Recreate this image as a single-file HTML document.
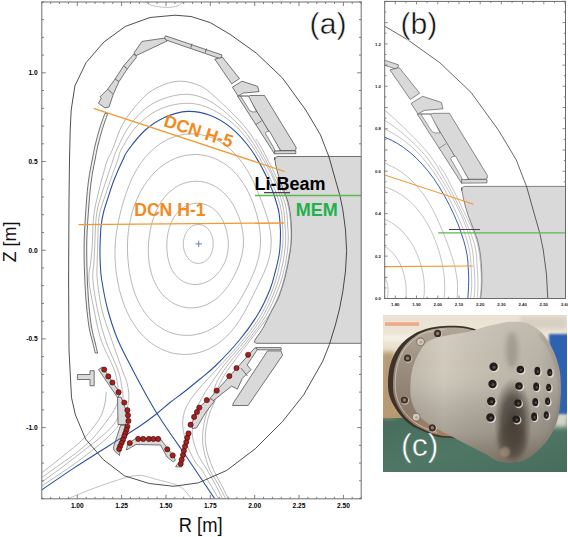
<!DOCTYPE html>
<html><head><meta charset="utf-8"><style>
html,body{margin:0;padding:0;background:#fff;width:568px;height:537px;overflow:hidden}
svg{display:block}
text{font-family:'Liberation Sans',sans-serif}
</style></head><body>
<svg width="568" height="537" viewBox="0 0 568 537">
<defs>
<clipPath id="ca"><rect x="41.8" y="2" width="319.4" height="496.8"/></clipPath>
<clipPath id="cb"><rect x="384.7" y="1.4" width="180.8" height="297.1"/></clipPath>
</defs>
<rect width="568" height="537" fill="#fff"/>
<g clip-path="url(#ca)">
<path d="M361.5,156.5 L278,156.5 Q274.5,156.5 274.5,160 L274.5,157.5C274.8,159.2 275.5,164.2 276.4,168C277.3,171.8 278.5,176.2 279.8,180C281.1,183.8 282.6,187.3 284,191C285.4,194.7 286.9,198.2 288,202C289.1,205.8 289.7,209.7 290.3,214C290.9,218.3 291.2,223.3 291.4,228C291.6,232.7 291.6,237.5 291.3,242C291,246.5 290.2,251 289.6,255C289,259 288.3,262.2 287.5,266C286.7,269.8 286.1,273.5 285,277.5C283.9,281.5 282.5,286.2 281.2,290C279.9,293.8 279.3,296 277.4,300C275.5,304 272.3,309.5 270,314C267.7,318.5 266,322.8 263.6,327C261.2,331.2 256.9,337 255.5,339 Q253,343.3 257,343.3 L361.5,343.3 Z" fill="#d9d9d9" stroke="#505050" stroke-width="0.8"/>
<path d="M213.1,245C213.1,245.4 213.1,245.7 213.1,246.1C213,246.5 213,246.9 213,247.2C212.9,247.6 212.9,248 212.8,248.3C212.7,248.7 212.7,249.1 212.6,249.4C212.5,249.8 212.4,250.2 212.3,250.5C212.2,250.9 212.1,251.3 212,251.6C211.9,252 211.8,252.4 211.6,252.7C211.5,253.1 211.4,253.4 211.2,253.8C211.1,254.1 210.9,254.5 210.7,254.8C210.5,255.2 210.3,255.5 210.1,255.9C210,256.2 209.7,256.5 209.5,256.9C209.3,257.2 209.1,257.5 208.8,257.8C208.6,258.1 208.3,258.4 208,258.7C207.8,259 207.5,259.3 207.2,259.6C206.9,259.9 206.6,260.1 206.3,260.4C206,260.7 205.6,260.9 205.3,261.1C205,261.4 204.6,261.6 204.3,261.8C203.9,262 203.5,262.1 203.2,262.3C202.8,262.5 202.4,262.6 202,262.8C201.6,262.9 201.2,263 200.8,263.1C200.4,263.2 200,263.2 199.6,263.3C199.2,263.3 198.8,263.4 198.4,263.4C198,263.4 197.6,263.4 197.2,263.3C196.8,263.3 196.4,263.2 196,263.2C195.6,263.1 195.2,263 194.8,262.9C194.4,262.8 194.1,262.7 193.7,262.5C193.3,262.4 193,262.2 192.6,262C192.3,261.8 191.9,261.7 191.6,261.4C191.3,261.2 190.9,261 190.6,260.8C190.3,260.6 190,260.3 189.8,260.1C189.5,259.8 189.2,259.6 189,259.3C188.7,259 188.5,258.7 188.2,258.5C188,258.2 187.8,257.9 187.6,257.6C187.4,257.3 187.2,257.1 187,256.8C186.8,256.5 186.6,256.2 186.4,255.9C186.3,255.6 186.1,255.3 186,255C185.8,254.7 185.7,254.5 185.5,254.2C185.4,253.9 185.3,253.6 185.2,253.3C185,253 184.9,252.7 184.8,252.5C184.7,252.2 184.6,251.9 184.5,251.6C184.4,251.3 184.3,251.1 184.3,250.8C184.2,250.5 184.1,250.2 184,250C184,249.7 183.9,249.4 183.8,249.1C183.8,248.9 183.7,248.6 183.7,248.3C183.6,248 183.6,247.8 183.5,247.5C183.5,247.2 183.4,246.9 183.4,246.7C183.4,246.4 183.3,246.1 183.3,245.8C183.3,245.6 183.3,245.3 183.3,245C183.3,244.7 183.3,244.4 183.3,244.2C183.3,243.9 183.3,243.6 183.3,243.3C183.3,243 183.3,242.8 183.3,242.5C183.4,242.2 183.4,241.9 183.4,241.6C183.4,241.3 183.5,241.1 183.5,240.8C183.6,240.5 183.6,240.2 183.7,239.9C183.7,239.6 183.8,239.3 183.9,239C183.9,238.7 184,238.4 184.1,238.1C184.1,237.8 184.2,237.5 184.3,237.2C184.4,236.9 184.5,236.6 184.6,236.3C184.7,235.9 184.8,235.6 184.9,235.3C185.1,235 185.2,234.7 185.3,234.3C185.5,234 185.6,233.7 185.8,233.4C185.9,233 186.1,232.7 186.3,232.4C186.5,232 186.7,231.7 186.9,231.4C187.1,231.1 187.3,230.7 187.6,230.4C187.8,230.1 188.1,229.8 188.3,229.5C188.6,229.1 188.9,228.8 189.2,228.5C189.5,228.3 189.8,228 190.1,227.7C190.5,227.4 190.8,227.2 191.2,226.9C191.5,226.7 191.9,226.4 192.3,226.2C192.6,226 193,225.8 193.5,225.6C193.9,225.5 194.3,225.3 194.7,225.2C195.1,225 195.6,224.9 196,224.8C196.4,224.7 196.9,224.7 197.3,224.6C197.8,224.6 198.2,224.6 198.7,224.6C199.1,224.6 199.6,224.6 200,224.7C200.5,224.8 200.9,224.8 201.4,224.9C201.8,225.1 202.2,225.2 202.7,225.3C203.1,225.5 203.5,225.7 203.9,225.9C204.3,226.1 204.7,226.3 205.1,226.5C205.5,226.8 205.9,227 206.2,227.3C206.6,227.6 206.9,227.9 207.2,228.2C207.6,228.5 207.9,228.8 208.2,229.1C208.5,229.4 208.8,229.8 209,230.1C209.3,230.5 209.5,230.8 209.8,231.2C210,231.6 210.2,232 210.5,232.3C210.7,232.7 210.9,233.1 211,233.5C211.2,233.9 211.4,234.2 211.5,234.6C211.7,235 211.8,235.4 211.9,235.8C212.1,236.2 212.2,236.6 212.3,237C212.4,237.4 212.5,237.7 212.6,238.1C212.7,238.5 212.7,238.9 212.8,239.3C212.9,239.7 212.9,240.1 213,240.5C213,240.8 213.1,241.2 213.1,241.6C213.1,242 213.1,242.4 213.1,242.7C213.2,243.1 213.2,243.5 213.2,243.9C213.2,244.3 213.2,244.6 213.1,245Z" fill="none" stroke="#a0a0a0" stroke-width="0.75"/>
<path d="M228.3,245C228.3,245.7 228.3,246.4 228.3,247.1C228.2,247.8 228.2,248.5 228.1,249.2C228,249.9 228,250.6 227.9,251.3C227.8,252 227.6,252.7 227.5,253.4C227.4,254.1 227.2,254.8 227,255.5C226.9,256.2 226.7,256.9 226.5,257.6C226.2,258.3 226,259 225.8,259.7C225.5,260.4 225.3,261 225,261.7C224.7,262.4 224.4,263.1 224.1,263.8C223.7,264.4 223.4,265.1 223,265.8C222.7,266.4 222.3,267.1 221.9,267.7C221.5,268.4 221.1,269 220.7,269.7C220.2,270.3 219.8,270.9 219.3,271.5C218.8,272.2 218.3,272.8 217.8,273.4C217.2,274 216.7,274.6 216.1,275.1C215.6,275.7 215,276.3 214.4,276.8C213.7,277.3 213.1,277.9 212.5,278.4C211.8,278.9 211.1,279.4 210.4,279.8C209.7,280.3 209,280.7 208.3,281.1C207.5,281.5 206.8,281.9 206,282.2C205.2,282.6 204.4,282.9 203.6,283.1C202.8,283.4 201.9,283.6 201.1,283.8C200.3,284 199.4,284.2 198.6,284.3C197.7,284.4 196.9,284.5 196,284.5C195.1,284.5 194.3,284.5 193.4,284.5C192.6,284.4 191.7,284.3 190.8,284.1C190,284 189.2,283.8 188.3,283.6C187.5,283.3 186.7,283 185.9,282.7C185.1,282.4 184.3,282 183.6,281.6C182.8,281.2 182.1,280.8 181.4,280.3C180.7,279.8 180,279.3 179.3,278.8C178.7,278.3 178,277.7 177.5,277.1C176.9,276.5 176.3,275.9 175.8,275.3C175.2,274.7 174.7,274 174.2,273.4C173.8,272.7 173.3,272 172.9,271.4C172.5,270.7 172.1,270 171.7,269.3C171.4,268.6 171,267.9 170.7,267.2C170.4,266.5 170.1,265.8 169.9,265C169.6,264.3 169.4,263.6 169.2,262.9C168.9,262.2 168.8,261.5 168.6,260.8C168.4,260.1 168.2,259.4 168.1,258.8C168,258.1 167.8,257.4 167.7,256.7C167.6,256 167.5,255.4 167.4,254.7C167.3,254 167.2,253.4 167.2,252.7C167.1,252.1 167.1,251.4 167,250.8C167,250.1 166.9,249.5 166.9,248.8C166.9,248.2 166.9,247.5 166.8,246.9C166.8,246.3 166.8,245.6 166.8,245C166.8,244.4 166.9,243.7 166.9,243.1C166.9,242.5 166.9,241.8 167,241.2C167,240.5 167.1,239.9 167.1,239.3C167.2,238.6 167.3,238 167.3,237.3C167.4,236.7 167.5,236 167.6,235.4C167.7,234.7 167.8,234 167.9,233.4C168.1,232.7 168.2,232 168.4,231.4C168.5,230.7 168.7,230 168.9,229.3C169,228.6 169.2,228 169.5,227.3C169.7,226.6 169.9,225.9 170.2,225.2C170.4,224.5 170.7,223.8 171,223.1C171.3,222.4 171.6,221.7 172,221C172.3,220.3 172.7,219.6 173.1,218.9C173.5,218.2 173.9,217.5 174.3,216.8C174.8,216.1 175.3,215.4 175.8,214.7C176.3,214.1 176.8,213.4 177.4,212.8C178,212.1 178.6,211.5 179.2,210.9C179.8,210.3 180.5,209.7 181.2,209.2C181.9,208.6 182.6,208.1 183.3,207.6C184.1,207.1 184.8,206.7 185.6,206.2C186.4,205.8 187.2,205.4 188.1,205.1C188.9,204.8 189.8,204.5 190.6,204.2C191.5,203.9 192.4,203.7 193.3,203.6C194.2,203.4 195.1,203.3 196,203.3C196.9,203.2 197.8,203.2 198.7,203.2C199.6,203.3 200.6,203.4 201.5,203.5C202.4,203.7 203.3,203.8 204.1,204.1C205,204.3 205.9,204.6 206.7,205C207.6,205.3 208.4,205.7 209.2,206.1C210,206.5 210.8,207 211.6,207.5C212.3,207.9 213,208.5 213.7,209C214.4,209.6 215.1,210.2 215.7,210.8C216.4,211.4 217,212.1 217.6,212.7C218.1,213.4 218.7,214.1 219.2,214.7C219.7,215.4 220.2,216.1 220.7,216.9C221.1,217.6 221.6,218.3 222,219C222.4,219.7 222.8,220.5 223.1,221.2C223.5,222 223.8,222.7 224.1,223.4C224.4,224.2 224.7,224.9 225,225.6C225.2,226.4 225.5,227.1 225.7,227.9C225.9,228.6 226.1,229.3 226.3,230C226.5,230.8 226.7,231.5 226.9,232.2C227,232.9 227.2,233.6 227.3,234.4C227.5,235.1 227.6,235.8 227.7,236.5C227.8,237.2 227.9,237.9 228,238.6C228.1,239.3 228.1,240.1 228.2,240.8C228.2,241.5 228.3,242.2 228.3,242.9C228.3,243.6 228.3,244.3 228.3,245Z" fill="none" stroke="#a0a0a0" stroke-width="0.75"/>
<path d="M243.4,245C243.3,246 243.2,247.1 243.1,248.1C243,249.1 242.9,250.1 242.7,251.1C242.5,252.2 242.3,253.2 242.1,254.2C241.9,255.2 241.7,256.2 241.4,257.2C241.2,258.2 240.9,259.2 240.6,260.1C240.3,261.1 240,262.1 239.7,263.1C239.3,264.1 239,265 238.6,266C238.2,267 237.8,267.9 237.4,268.9C237,269.9 236.6,270.8 236.1,271.8C235.7,272.8 235.2,273.7 234.7,274.7C234.2,275.7 233.7,276.7 233.2,277.6C232.7,278.6 232.1,279.6 231.6,280.6C231,281.5 230.4,282.5 229.8,283.5C229.1,284.5 228.5,285.5 227.8,286.4C227.1,287.4 226.4,288.4 225.6,289.3C224.9,290.3 224.1,291.2 223.2,292.2C222.4,293.1 221.5,294 220.6,294.9C219.7,295.8 218.8,296.7 217.8,297.6C216.8,298.4 215.7,299.2 214.7,300C213.6,300.8 212.5,301.5 211.3,302.2C210.2,302.9 209,303.5 207.8,304.1C206.5,304.7 205.3,305.2 204,305.7C202.7,306.1 201.4,306.5 200.1,306.9C198.7,307.2 197.4,307.4 196,307.6C194.6,307.8 193.3,307.9 191.9,307.9C190.5,307.9 189.1,307.9 187.7,307.8C186.4,307.6 185,307.4 183.6,307.1C182.3,306.8 181,306.5 179.6,306C178.3,305.6 177.1,305.1 175.8,304.5C174.6,303.9 173.3,303.3 172.2,302.5C171,301.8 169.9,301.1 168.8,300.2C167.7,299.4 166.6,298.5 165.6,297.6C164.6,296.7 163.7,295.7 162.8,294.7C161.9,293.7 161,292.7 160.2,291.6C159.4,290.6 158.7,289.5 158,288.4C157.3,287.3 156.6,286.1 156,285C155.4,283.9 154.8,282.7 154.3,281.5C153.8,280.4 153.3,279.2 152.9,278.1C152.5,276.9 152.1,275.7 151.7,274.6C151.4,273.4 151,272.3 150.8,271.1C150.5,270 150.2,268.8 150,267.7C149.7,266.6 149.5,265.4 149.4,264.3C149.2,263.2 149,262.1 148.9,261C148.8,259.9 148.7,258.8 148.6,257.7C148.5,256.6 148.4,255.5 148.4,254.5C148.4,253.4 148.3,252.3 148.3,251.3C148.3,250.2 148.3,249.2 148.3,248.1C148.4,247.1 148.4,246 148.5,245C148.5,244 148.6,242.9 148.7,241.9C148.8,240.9 148.9,239.8 149,238.8C149.1,237.8 149.2,236.8 149.4,235.7C149.5,234.7 149.7,233.7 149.8,232.6C150,231.6 150.2,230.6 150.4,229.5C150.6,228.5 150.9,227.5 151.1,226.4C151.4,225.4 151.6,224.3 151.9,223.3C152.2,222.2 152.5,221.1 152.8,220.1C153.1,219 153.5,217.9 153.9,216.9C154.3,215.8 154.7,214.7 155.1,213.6C155.5,212.5 156,211.4 156.5,210.3C157,209.3 157.5,208.2 158.1,207.1C158.6,206 159.2,204.9 159.9,203.8C160.5,202.8 161.2,201.7 162,200.6C162.7,199.6 163.5,198.5 164.3,197.5C165.1,196.5 166,195.5 166.9,194.5C167.8,193.6 168.7,192.6 169.7,191.7C170.7,190.8 171.8,190 172.9,189.2C174,188.3 175.1,187.6 176.3,186.9C177.4,186.2 178.7,185.5 179.9,184.9C181.1,184.3 182.4,183.8 183.7,183.3C185,182.9 186.4,182.5 187.7,182.2C189.1,181.9 190.5,181.6 191.8,181.5C193.2,181.3 194.6,181.2 196,181.2C197.4,181.2 198.8,181.3 200.2,181.4C201.5,181.6 202.9,181.8 204.3,182.1C205.6,182.4 207,182.8 208.3,183.3C209.6,183.7 210.9,184.2 212.1,184.8C213.4,185.4 214.6,186.1 215.8,186.7C217,187.4 218.1,188.2 219.2,189C220.3,189.8 221.3,190.7 222.4,191.6C223.4,192.4 224.3,193.4 225.3,194.3C226.2,195.3 227.1,196.3 227.9,197.3C228.7,198.3 229.5,199.3 230.3,200.4C231,201.4 231.7,202.5 232.4,203.5C233,204.6 233.7,205.7 234.3,206.7C234.8,207.8 235.4,208.9 235.9,210C236.4,211.1 236.9,212.2 237.4,213.2C237.9,214.3 238.3,215.4 238.7,216.5C239.1,217.6 239.5,218.6 239.8,219.7C240.1,220.8 240.5,221.9 240.8,222.9C241.1,224 241.3,225.1 241.6,226.1C241.8,227.2 242.1,228.2 242.3,229.3C242.5,230.4 242.6,231.4 242.8,232.5C242.9,233.5 243.1,234.6 243.2,235.6C243.3,236.7 243.3,237.7 243.4,238.8C243.4,239.8 243.4,240.9 243.4,241.9C243.4,242.9 243.4,244 243.4,245Z" fill="none" stroke="#a0a0a0" stroke-width="0.75"/>
<path d="M260.4,245C260.3,246.4 260.2,247.8 260,249.2C259.8,250.6 259.6,252 259.4,253.3C259.2,254.7 258.9,256.1 258.6,257.5C258.3,258.8 257.9,260.2 257.6,261.5C257.2,262.8 256.8,264.2 256.4,265.5C255.9,266.8 255.5,268.1 255,269.4C254.5,270.7 254,272 253.5,273.3C252.9,274.6 252.4,275.9 251.8,277.2C251.2,278.5 250.7,279.8 250,281.1C249.4,282.4 248.8,283.7 248.2,285C247.5,286.3 246.9,287.7 246.2,289C245.5,290.3 244.8,291.7 244,293C243.3,294.4 242.5,295.7 241.7,297.1C240.9,298.5 240.1,299.9 239.2,301.3C238.3,302.7 237.4,304.1 236.4,305.5C235.4,306.9 234.4,308.3 233.3,309.6C232.2,311 231.1,312.4 229.9,313.8C228.7,315.2 227.5,316.5 226.2,317.8C224.8,319.1 223.5,320.4 222,321.6C220.6,322.9 219.1,324 217.5,325.2C215.9,326.3 214.3,327.3 212.6,328.3C210.9,329.3 209.1,330.2 207.3,331C205.5,331.8 203.7,332.5 201.8,333.1C199.9,333.6 197.9,334.1 196,334.5C194.1,334.9 192.1,335.1 190.1,335.3C188.1,335.4 186.1,335.4 184.1,335.3C182.1,335.2 180.1,335 178.2,334.6C176.2,334.2 174.3,333.8 172.4,333.2C170.5,332.6 168.6,331.8 166.8,331C165,330.2 163.2,329.3 161.5,328.2C159.8,327.2 158.2,326.1 156.6,324.9C155.1,323.7 153.5,322.3 152.1,321C150.7,319.6 149.4,318.2 148.1,316.7C146.8,315.2 145.6,313.7 144.5,312.1C143.4,310.6 142.3,308.9 141.4,307.3C140.4,305.7 139.5,304 138.7,302.3C137.8,300.7 137.1,299 136.4,297.3C135.7,295.6 135,293.9 134.4,292.2C133.8,290.6 133.3,288.9 132.8,287.2C132.3,285.5 131.9,283.9 131.5,282.2C131.1,280.6 130.7,279 130.4,277.3C130.1,275.7 129.8,274.1 129.5,272.5C129.3,270.9 129,269.4 128.8,267.8C128.6,266.2 128.4,264.7 128.3,263.1C128.1,261.6 128,260.1 127.9,258.6C127.8,257 127.7,255.5 127.6,254C127.5,252.5 127.5,251 127.5,249.5C127.4,248 127.4,246.5 127.5,245C127.5,243.5 127.5,242 127.6,240.5C127.7,239 127.8,237.5 127.9,236C128,234.5 128.2,233 128.4,231.5C128.5,230 128.7,228.5 129,227C129.2,225.5 129.5,224 129.8,222.5C130.1,221 130.4,219.5 130.8,218C131.1,216.5 131.5,214.9 131.9,213.4C132.4,211.9 132.8,210.4 133.3,208.8C133.8,207.3 134.4,205.7 134.9,204.2C135.5,202.7 136.1,201.1 136.8,199.6C137.5,198 138.2,196.5 138.9,194.9C139.7,193.4 140.5,191.8 141.3,190.3C142.2,188.8 143.1,187.3 144,185.7C145,184.2 146,182.7 147.1,181.3C148.2,179.8 149.3,178.3 150.5,176.9C151.7,175.5 153,174.1 154.3,172.7C155.6,171.4 157,170.1 158.4,168.8C159.9,167.6 161.4,166.4 163,165.3C164.5,164.1 166.2,163.1 167.9,162.1C169.5,161.1 171.3,160.2 173.1,159.4C174.8,158.6 176.7,157.8 178.5,157.2C180.4,156.6 182.3,156.1 184.2,155.7C186.2,155.3 188.1,155 190.1,154.8C192,154.6 194,154.5 196,154.5C198,154.6 199.9,154.7 201.9,155C203.8,155.3 205.8,155.7 207.7,156.1C209.6,156.6 211.5,157.2 213.3,157.9C215.2,158.6 217,159.4 218.7,160.3C220.4,161.2 222.1,162.2 223.7,163.3C225.4,164.3 226.9,165.5 228.5,166.7C230,167.9 231.4,169.1 232.8,170.5C234.1,171.8 235.4,173.1 236.7,174.5C237.9,176 239.1,177.4 240.2,178.9C241.3,180.3 242.3,181.8 243.3,183.3C244.3,184.9 245.2,186.4 246.1,187.9C246.9,189.4 247.7,191 248.5,192.5C249.3,194 250,195.6 250.6,197.1C251.3,198.6 251.9,200.1 252.5,201.6C253.1,203.2 253.6,204.7 254.2,206.1C254.7,207.6 255.1,209.1 255.6,210.6C256,212.1 256.5,213.5 256.9,215C257.2,216.4 257.6,217.9 257.9,219.3C258.3,220.8 258.6,222.2 258.8,223.7C259.1,225.1 259.3,226.5 259.6,228C259.8,229.4 259.9,230.8 260.1,232.3C260.2,233.7 260.3,235.1 260.4,236.5C260.5,237.9 260.5,239.4 260.5,240.8C260.5,242.2 260.4,243.6 260.4,245Z" fill="none" stroke="#a0a0a0" stroke-width="0.75"/>
<path d="M271.1,245C271,246.6 270.9,248.3 270.7,249.9C270.5,251.5 270.2,253.1 269.9,254.7C269.6,256.3 269.2,257.9 268.7,259.5C268.3,261 267.8,262.6 267.3,264.1C266.8,265.6 266.2,267.1 265.7,268.6C265.1,270.1 264.4,271.6 263.8,273.1C263.2,274.6 262.5,276 261.8,277.5C261.1,278.9 260.4,280.3 259.7,281.8C259,283.2 258.3,284.7 257.6,286.2C256.9,287.6 256.1,289.1 255.4,290.6C254.7,292.1 253.9,293.6 253.2,295.1C252.4,296.7 251.6,298.2 250.8,299.8C250,301.4 249.2,303.1 248.4,304.7C247.5,306.4 246.6,308.1 245.7,309.8C244.8,311.5 243.8,313.2 242.8,315C241.7,316.8 240.7,318.5 239.5,320.3C238.3,322.1 237.1,323.9 235.8,325.7C234.5,327.4 233.1,329.2 231.6,330.9C230.1,332.6 228.5,334.4 226.9,336C225.2,337.6 223.5,339.2 221.6,340.7C219.8,342.2 217.9,343.6 215.9,344.9C213.9,346.2 211.8,347.4 209.6,348.5C207.5,349.5 205.2,350.5 203,351.3C200.7,352.1 198.4,352.8 196,353.3C193.6,353.8 191.2,354.1 188.8,354.3C186.4,354.5 184,354.5 181.6,354.4C179.2,354.2 176.8,353.9 174.4,353.5C172.1,353 169.7,352.4 167.4,351.6C165.2,350.8 162.9,349.9 160.8,348.8C158.6,347.8 156.5,346.6 154.5,345.3C152.4,344 150.5,342.5 148.7,341C146.8,339.5 145,337.8 143.4,336.2C141.7,334.5 140.1,332.7 138.6,330.8C137.2,329 135.8,327.1 134.5,325.2C133.2,323.3 132,321.3 130.8,319.3C129.7,317.3 128.7,315.3 127.7,313.3C126.7,311.3 125.9,309.2 125,307.2C124.2,305.2 123.5,303.2 122.8,301.2C122.1,299.2 121.5,297.2 120.9,295.2C120.3,293.2 119.8,291.2 119.3,289.3C118.9,287.3 118.4,285.4 118,283.4C117.7,281.5 117.3,279.6 117,277.7C116.7,275.8 116.4,274 116.2,272.1C116,270.2 115.8,268.4 115.6,266.5C115.4,264.7 115.3,262.9 115.2,261.1C115.1,259.3 115,257.5 115,255.7C115,253.9 115,252.1 115,250.3C115.1,248.5 115.1,246.8 115.2,245C115.3,243.2 115.5,241.5 115.6,239.7C115.8,238 116,236.2 116.2,234.5C116.4,232.8 116.7,231 117,229.3C117.3,227.5 117.6,225.8 117.9,224.1C118.2,222.3 118.6,220.6 119,218.8C119.3,217.1 119.7,215.4 120.2,213.6C120.6,211.8 121,210.1 121.5,208.3C122,206.5 122.5,204.7 123,202.9C123.6,201.1 124.1,199.2 124.7,197.4C125.3,195.5 125.9,193.6 126.6,191.8C127.3,189.9 128,188 128.8,186C129.5,184.1 130.3,182.2 131.2,180.2C132.1,178.3 133,176.3 134.1,174.4C135.1,172.4 136.2,170.5 137.3,168.5C138.5,166.6 139.7,164.7 141.1,162.8C142.4,160.9 143.8,159 145.3,157.2C146.8,155.4 148.4,153.7 150.1,152C151.8,150.3 153.6,148.7 155.5,147.2C157.4,145.7 159.3,144.2 161.4,142.9C163.4,141.7 165.5,140.5 167.7,139.4C169.9,138.4 172.2,137.4 174.5,136.7C176.8,135.9 179.1,135.3 181.5,134.8C183.9,134.4 186.3,134.1 188.7,134C191.1,133.8 193.6,133.9 196,134.1C198.4,134.3 200.8,134.6 203.2,135.2C205.6,135.7 207.9,136.4 210.2,137.2C212.5,138 214.7,139 216.9,140.1C219,141.2 221.1,142.4 223.1,143.8C225.1,145.1 227.1,146.6 228.9,148.1C230.7,149.6 232.5,151.3 234.1,153C235.8,154.6 237.3,156.4 238.8,158.2C240.3,160 241.7,161.8 243,163.6C244.3,165.5 245.5,167.4 246.6,169.2C247.8,171.1 248.8,173 249.9,174.8C250.9,176.7 251.8,178.5 252.7,180.4C253.6,182.2 254.4,184 255.2,185.8C256,187.6 256.8,189.3 257.5,191.1C258.2,192.8 258.9,194.5 259.6,196.2C260.3,197.9 260.9,199.5 261.6,201.2C262.2,202.8 262.8,204.5 263.4,206.1C264,207.7 264.6,209.3 265.1,210.9C265.7,212.5 266.2,214.1 266.7,215.7C267.2,217.3 267.7,218.9 268.1,220.5C268.5,222.1 268.9,223.7 269.3,225.4C269.6,227 270,228.6 270.2,230.2C270.5,231.9 270.7,233.5 270.9,235.1C271,236.8 271.1,238.4 271.2,240.1C271.2,241.7 271.2,243.4 271.1,245Z" fill="none" stroke="#a0a0a0" stroke-width="0.75"/>
<path d="M67.9,498.8C72.6,496.9 86.6,490.9 95.9,487.5C105.2,484.1 116.5,480.2 123.8,478.2C131.2,476.2 134.9,475.3 140,475.4C145.1,475.5 148,477.1 154.6,478.9C161.2,480.7 173.1,483 179.3,486.3C185.5,489.6 189.6,496.7 191.6,498.8" fill="none" stroke="#a8a8a8" stroke-width="0.7"/>
<path d="M145.5,2C146.6,2.6 148.5,4.6 152,5.5C155.5,6.4 162.4,7.3 166.6,7.4C170.8,7.5 174.2,6.9 177,6C179.8,5.1 182.4,2.7 183.5,2" fill="none" stroke="#a8a8a8" stroke-width="0.7"/>
<path d="M42,485.7C46.7,482.6 61,473.4 70,467C79,460.6 88.7,453.3 95.9,447.5C103.1,441.7 108.3,437.1 113,432C117.7,426.9 121.4,422.3 124,417C126.6,411.7 128.1,405.3 128.7,400C129.3,394.7 128.6,390 127.5,385C126.4,380 124.9,377.5 122.3,370C119.7,362.5 115.1,350 111.7,340C108.3,330 104.4,320 102,310C99.6,300 98.1,288 97.3,280C96.5,272 97.1,268 97.2,262C97.3,256 97.5,250.2 97.7,244C97.9,237.8 97.9,230.3 98.3,225C98.7,219.7 99,216.2 99.9,212C100.8,207.8 101.9,205.3 103.7,200C105.5,194.7 108.2,186.7 110.5,180C112.8,173.3 116,165 117.8,160C119.6,155 118.1,155.5 121.1,150C124.1,144.5 129.8,133.7 136,127C142.2,120.3 149.7,114 158,110C166.3,106 177.1,103.5 185.8,103.3C194.5,103 201.9,104.9 210,108.5C218.1,112.1 227.1,118.1 234.6,125C242.1,131.9 248.9,140.8 254.9,150C260.9,159.2 266.5,170.8 270.7,180C274.9,189.2 278.1,197.5 280.1,205C282.1,212.5 282.1,218.5 282.5,225C282.9,231.5 283.4,236.8 282.8,244C282.2,251.2 280.6,260.3 278.9,268C277.2,275.7 275.5,282.2 272.5,290C269.5,297.8 265.9,306.7 261,315C256.1,323.3 249.7,331.7 243,340C236.3,348.3 228.2,356.7 220.7,365C213.2,373.3 203.6,383.2 198,390C192.4,396.8 189.5,400.8 187,405.6C184.5,410.4 183.6,414.4 183,418.7C182.4,423 182.6,426.7 183.5,431.7C184.4,436.7 186.5,443.7 188.6,448.9C190.7,454.1 193.8,459.5 196,463C198.2,466.5 199.6,466.5 201.9,470C204.2,473.5 207.2,479.2 210,484C212.8,488.8 217.3,496.3 218.8,498.8" fill="none" stroke="#9a9a9a" stroke-width="0.7"/>
<path d="M42,481.9C45.8,479.1 57.6,470.6 65,465C72.4,459.4 80.4,453.2 86.6,448.4C92.8,443.6 98,439.4 102,436C106,432.6 108.4,430.5 110.8,427.9C113.2,425.3 114.7,423.5 116.4,420.5C118.1,417.5 119.9,413.8 121,410C122.1,406.2 122.9,402.2 123,398C123.1,393.8 122.3,389.7 121.5,385C120.7,380.3 120.6,377.5 117.9,370C115.2,362.5 108.9,350 105.5,340C102.1,330 99.7,320 97.6,310C95.5,300 93.5,288 92.9,280C92.3,272 93.7,268 94,262C94.3,256 94.5,250.2 94.8,244C95.1,237.8 95.2,230.3 95.6,225C95.9,219.7 96.2,216.2 96.9,212C97.6,207.8 98.2,205.3 99.8,200C101.4,194.7 104.1,186.7 106.3,180C108.5,173.3 111.3,165 113,160C114.7,155 113.9,155.8 116.7,150C119.5,144.2 124.1,132.7 130,125C135.9,117.3 143.2,109.1 152,104C160.8,98.9 173.3,94.9 183,94.4C192.7,93.9 200.7,96.1 210,101.2C219.3,106.3 231.1,116.9 239,125C246.9,133.1 251.7,140.8 257.5,150C263.3,159.2 269.8,170.8 274,180C278.2,189.2 280.9,197.5 282.7,205C284.5,212.5 284.5,218.5 285,225C285.5,231.5 286,236.8 285.5,244C285,251.2 283.5,260.3 281.8,268C280.1,275.7 278.1,282.2 275.1,290C272.1,297.8 268.5,306.7 263.6,315C258.7,323.3 252.2,331.7 245.7,340C239.1,348.3 230.6,357 224.3,365C218,373 211.8,382.4 208,388C204.2,393.6 203.6,394.9 201.6,398.6C199.6,402.3 197.4,406 196,410C194.6,414 193.9,418.5 193.3,422.8C192.7,427.1 191.6,430.6 192.4,435.9C193.2,441.2 195.4,448.8 197.9,454.5C200.4,460.2 204.3,465.1 207.2,470C210,474.9 212.4,479.2 215,484C217.6,488.8 221.2,496.3 222.5,498.8" fill="none" stroke="#9a9a9a" stroke-width="0.7"/>
<path d="M42,477.3C45,475.2 54.1,468.7 60,464.5C65.9,460.3 72,456.2 77.2,452.1C82.4,448 87,444 91,440C95,436 98.5,431.6 101.5,427.9C104.5,424.2 106.8,421.1 109,418C111.2,414.9 113,412.3 114.5,409.3C116,406.3 117.6,403.6 118.2,400C118.8,396.4 118.7,393 118,388C117.3,383 117.1,378 114.3,370C111.5,362 104.5,350 101.1,340C97.7,330 96.1,320 94.1,310C92.1,300 89.5,288 88.9,280C88.4,272 90.2,268 90.8,262C91.4,256 91.9,250.2 92.3,244C92.7,237.8 92.7,230.3 93,225C93.3,219.7 93.7,216.2 94.3,212C94.9,207.8 95.5,205.3 96.7,200C97.9,194.7 99.8,186.7 101.6,180C103.4,173.3 105.6,165 107.4,160C109.2,155 109.5,156.3 112.3,150C115.1,143.7 118.5,131 124,122C129.4,113 138.5,102.2 145,96C151.5,89.8 157.3,87.5 163,85C168.7,82.5 174,81.4 179.3,81.2C184.6,81 189.9,82.1 195,84C200.1,85.9 201.9,85.7 210,92.5C218.1,99.3 235.1,115.4 243.4,125C251.8,134.6 254.8,140.8 260.1,150C265.5,159.2 271.3,170.8 275.5,180C279.7,189.2 283.4,197.5 285.4,205C287.4,212.5 287.2,218.5 287.6,225C288.1,231.5 288.6,236.8 288.1,244C287.6,251.2 286.3,260.3 284.6,268C282.9,275.7 280.9,282.2 277.8,290C274.8,297.8 271.2,306.7 266.3,315C261.4,323.3 254.7,331.7 248.3,340C241.9,348.3 233.2,357.7 227.8,365C222.4,372.3 218.5,378.4 216,384C213.5,389.6 214.3,393.9 212.8,398.6C211.3,403.3 208.6,407.4 207,412C205.4,416.6 204.2,421.6 203.5,426.5C202.8,431.4 202.3,436.6 202.6,441.4C202.8,446.1 203.8,450.2 205,455C206.2,459.8 207.6,465.2 209.8,470C212,474.8 215.3,479.2 218,484C220.7,488.8 224.4,496.3 225.7,498.8" fill="none" stroke="#9a9a9a" stroke-width="0.7"/>
<path d="M42,472.6C44.2,470.9 50.7,465.9 55,462.5C59.3,459.1 63.9,455.4 67.9,452.1C71.9,448.9 75.6,446.1 79,443C82.4,439.9 85.7,436.6 88.4,433.5C91.2,430.4 93.3,427.6 95.5,424.5C97.7,421.4 99.9,418.5 101.5,414.9C103.1,411.3 104.2,406.8 105,403C105.8,399.2 106.1,393.8 106.3,392" fill="none" stroke="#9a9a9a" stroke-width="0.7"/>
<path d="M256,139C257.1,140.8 259.2,143.2 262.8,150C266.4,156.8 273.6,171.2 277.7,180C281.8,188.8 285.4,195.5 287.5,203C289.6,210.5 290.1,218.5 290.6,225C291.2,231.5 291.1,237 290.8,242C290.5,247 289.7,250.7 289,255C288.3,259.3 288,262.2 286.6,268C285.2,273.8 283.5,282.3 280.7,290C277.9,297.7 274.4,306 269.6,314C264.8,322 258.4,329.5 252,338C245.6,346.5 236.7,357.3 231.3,365C225.9,372.7 222.1,378.4 219.5,384C216.9,389.6 217.4,393.9 215.8,398.6C214.2,403.3 211.6,407.4 210,412C208.4,416.6 207.1,421.6 206.3,426.5C205.5,431.4 205,436.6 205.3,441.4C205.6,446.1 206.6,450.2 208,455C209.4,459.8 211.3,465.2 213.5,470C215.7,474.8 218.5,479.2 221,484C223.5,488.8 227.1,496.3 228.3,498.8" fill="none" stroke="#9a9a9a" stroke-width="0.7"/>
<path d="M69,200 L69.5,160 L70.2,130 L71.2,110 L74.9,85.9 L86.1,62.6 L103.8,42.1 L125.4,26.4 L150,17.5 L175,15.2 L191,16.5 L210.2,22.6 L230,34.3 L256.3,53.1 L282.4,77.9 L305.7,110 L320.3,134.5 L329,157 L335.4,179.8 L340,196 L342.8,209.6 L345.5,230 L346.6,250.6 L345.5,271 L342.8,291.5 L339.5,309 L335.4,325 L329.4,344.5 L322.7,361.3 L303.7,394.8 L282.4,421.7 L255.3,448.7 L226.6,470.5 L198.5,482.8 L173.8,486.3 L149.2,483.5 L124.5,475.8 L103.3,459.6 L85.6,439.1 L75.4,414.9 L71.5,397.6 L69,350 L68.6,280 L69,200" fill="none" stroke="#222" stroke-width="0.8"/>
<path d="M142,41.4 L165.4,38 L167,41 L136,55.7 L134,53Z" fill="#d9d9d9" stroke="#404040" stroke-width="0.7" stroke-linejoin="round"/>
<path d="M134.1,53.9 L123.5,66 L115.1,79 L107.7,89.2 L100.2,96.7 L101.2,98.6 L98.4,103.2 L104.9,107.9 L109,107 L113.3,94.3 L119,81.6 L127.4,68.8 L136.6,57Z" fill="#d9d9d9" stroke="#404040" stroke-width="0.7" stroke-linejoin="round"/>
<path d="M165.5,35.8 Q163.5,37.5 166,40 L220.5,58.8 L222,55 Z" fill="#d9d9d9" stroke="#404040" stroke-width="0.7" stroke-linejoin="round"/>
<path d="M214.7,59.1 L222.5,57.3 L239.5,78.6 L231.7,83.8Z" fill="#d9d9d9" stroke="#404040" stroke-width="0.7" stroke-linejoin="round"/>
<path d="M232.4,87.2 L242,81.2 L257.7,86.4 L259,91.7 L243.4,93 L238.2,96.1Z" fill="#d9d9d9" stroke="#404040" stroke-width="0.7" stroke-linejoin="round"/>
<path d="M237.5,96 L248.6,96 L280.5,150.8 L274.5,153.8Z" fill="#d9d9d9" stroke="#404040" stroke-width="0.7" stroke-linejoin="round"/>
<path d="M250.3,95.5 L264.4,95.4 L296.1,147.3 Q296.6,150.4 294.5,150.5 L280.5,150.5 L248.4,97.4 Q248.4,95.5 250.3,95.5Z" fill="#d9d9d9" stroke="#404040" stroke-width="0.7" stroke-linejoin="round"/>
<path d="M274.5,150.8 L295.8,150.8 L295.8,153.6 L274.5,153.8Z" fill="#d9d9d9" stroke="#404040" stroke-width="0.7" stroke-linejoin="round"/>
<path d="M77.4,374.5 L90,374.5 L90,370.7 L94.2,370.7 L94.2,385.8 L90,385.8 L90,379.5 L77.4,379.5Z" fill="#d9d9d9" stroke="#404040" stroke-width="0.7" stroke-linejoin="round"/>
<path d="M98.5,369.5 L102.5,367 L120.5,394 L117.5,397.5Z" fill="#d9d9d9" stroke="#404040" stroke-width="0.7" stroke-linejoin="round"/>
<path d="M117.5,397.5 L121,397 L126,410 L127.5,420 L125.5,424.5 L118,424.5Z" fill="#d9d9d9" stroke="#404040" stroke-width="0.7" stroke-linejoin="round"/>
<path d="M120.5,425.5 L125.5,425 L124,433 L121,442 L119.5,455.5 L114,450.5 L113.5,447Z" fill="#d9d9d9" stroke="#404040" stroke-width="0.7" stroke-linejoin="round"/>
<path d="M126.5,450 L127.5,444 L135.5,438.5 L160.2,438.5 L163.5,443 L172,454 L175.5,460 L173.5,462 L167,457 L160.5,445 L136,444.5Z" fill="#d9d9d9" stroke="#404040" stroke-width="0.7" stroke-linejoin="round"/>
<path d="M191.5,424 L198.5,408 L205.5,401.5 L211,398.5 L214.5,401 L206,412 L196.5,428 L192.5,428.5Z" fill="#d9d9d9" stroke="#404040" stroke-width="0.7" stroke-linejoin="round"/>
<path d="M175.6,466.8 L177.8,463.6 L182.5,463.8 L181.5,467Z" fill="#d9d9d9" stroke="#404040" stroke-width="0.7" stroke-linejoin="round"/>
<path d="M210.3,397.8 L254.9,347.8 L257.5,349.4 L247.1,364.9 L251,369.7 L242.3,378.4 L237.4,389.1 L231.6,386.2 L213.2,400.7Z" fill="#d9d9d9" stroke="#404040" stroke-width="0.7" stroke-linejoin="round"/>
<path d="M255.8,347.6 L281,347.6 L281.4,349.8 L257.8,349.8Z" fill="#d9d9d9" stroke="#404040" stroke-width="0.7" stroke-linejoin="round"/>
<path d="M267.5,350.9 L281,350.9 L282.6,355.2 L248.1,405.5 L232.6,405.5 L233.6,402.6Z" fill="#d9d9d9" stroke="#404040" stroke-width="0.7" stroke-linejoin="round"/>
<path d="M104.8,113.6C104,116 101.4,122.8 99.8,128C98.2,133.2 96.5,139.7 95.2,145C93.9,150.3 93.3,154.2 92.2,160C91.1,165.8 89.6,172.5 88.6,180C87.6,187.5 86.9,195 86.2,205C85.5,215 84.5,228.3 84.2,240C83.9,251.7 84.2,264.2 84.6,275C85,285.8 85.6,296.2 86.4,305C87.2,313.8 88.2,321.8 89.2,328C90.2,334.2 91.6,337.8 92.6,342C93.6,346.2 94.8,351.2 95.2,353 L97.6,353 C97.2,351.2 96,346.2 95,342C94.1,337.8 92.7,334.2 91.7,328C90.6,321.8 89.7,313.8 88.9,305C88.2,296.2 87.5,285.8 87.2,275C86.8,264.2 86.6,251.7 86.8,240C87.1,228.3 88.2,215 88.9,205C89.7,195 90.4,187.5 91.4,180C92.4,172.5 93.9,165.8 95,160C96.1,154.2 96.8,150.3 98,145C99.3,139.7 101.1,133.2 102.7,128C104.3,122.8 106.9,116 107.7,113.6Z" fill="#f2f2f2" stroke="#333" stroke-width="0.7"/>
<path d="M240.6,96.2 L249.7,110.6 Q251.8,112.6 256.6,111.8 L248.6,96.2 Z M265.4,133.4 Q265.9,131.4 268.4,131.3 L269.6,131.3 L280,149.8 L279.6,150.6 L275.6,151 Z M255.5,124.8 L261.6,120.8" fill="#fff" stroke="#404040" stroke-width="0.6"/>
<path d="M123.5,66 L127.4,68.8 M115.1,79 L119,81.6 M107.7,89.2 L112.8,94" fill="none" stroke="#404040" stroke-width="0.7"/>
<path d="M192,43.6 L190.8,47.8 M206.5,48.5 L205.2,52.8" fill="none" stroke="#404040" stroke-width="0.7"/>
<path d="M241,368 L247.5,376" fill="none" stroke="#404040" stroke-width="0.7"/>
<path d="M42,489.7C47.2,486.2 61.7,476.1 73,468.6C84.3,461.2 98.8,452.1 110,445C121.2,437.9 132.2,431.2 140,426C147.8,420.8 152,417.4 157,413.5C162,409.6 165.5,406.1 170,402.5C174.5,398.9 179,395.9 184,392C189,388.1 194.6,383.5 200,379C205.4,374.5 209.7,371.5 216.3,365C222.9,358.5 232.6,348.3 239.5,340C246.4,331.7 252.4,323.3 257.5,315C262.6,306.7 266.9,297.2 269.8,290C272.8,282.8 273.7,277.7 275.2,272C276.7,266.3 278.1,260.7 278.9,256C279.7,251.3 280,248.7 280.2,244C280.4,239.3 280.7,234 280.3,228C279.9,222 280,216 278,208C276,200 272.6,189.7 268.1,180C263.7,170.3 257.4,158.6 251.3,150C245.2,141.4 238.4,134 231.5,128.2C224.6,122.4 217.3,118.1 210,115.3C202.7,112.5 195,111.1 187.5,111.4C180,111.7 172,114.1 165,117.2C158,120.3 151.4,124.5 145.3,130C139.2,135.5 131.9,145 128.2,150C124.4,155 125.2,155 122.8,160C120.4,165 116.6,173.3 114,180C111.4,186.7 109,194.7 107.3,200C105.6,205.3 104.6,207.8 103.6,212C102.6,216.2 101.8,219.7 101.2,225C100.6,230.3 100.3,237.8 100.1,244C99.9,250.2 99.9,256 100.2,262C100.5,268 100.4,272 101.7,280C103,288 105.1,300 107.8,310C110.5,320 113.7,330 117.9,340C122.1,350 128.5,361.7 132.8,370C137.1,378.3 140.9,385.2 143.5,390C146.1,394.8 146.2,395.1 148.5,399C150.8,402.9 153.4,407.8 157,413.5C160.6,419.2 165.2,425.9 170,433C174.8,440.1 180.7,448.2 186,456C191.3,463.8 197.3,472.9 202.1,480C206.9,487.1 212.7,495.7 214.8,498.8" fill="none" stroke="#2f4fa5" stroke-width="1.1"/>
<path d="M195.5,243.9 H202 M198.7,240.7 V247.1" stroke="#5060b0" stroke-width="0.8"/>
<path d="M93.7,108.4 L284.6,171.5" stroke="#f39a2e" stroke-width="1.3"/>
<path d="M78.5,224.6 L284,223" stroke="#f39a2e" stroke-width="1.3"/>
<path d="M255,195.4 L361,195.4" stroke="#5cb84f" stroke-width="1.5"/>
<path d="M264,192.6 L290,192.6" stroke="#4d4149" stroke-width="1.25"/>
<circle cx="104.2" cy="369.6" r="2.6" fill="#a5201f" stroke="#3a0a0a" stroke-width="0.6"/>
<circle cx="108.3" cy="376.4" r="2.6" fill="#a5201f" stroke="#3a0a0a" stroke-width="0.6"/>
<circle cx="112.4" cy="382.5" r="2.6" fill="#a5201f" stroke="#3a0a0a" stroke-width="0.6"/>
<circle cx="118.6" cy="392.2" r="2.6" fill="#a5201f" stroke="#3a0a0a" stroke-width="0.6"/>
<circle cx="124.3" cy="402.6" r="2.6" fill="#a5201f" stroke="#3a0a0a" stroke-width="0.6"/>
<circle cx="127.4" cy="410.2" r="2.6" fill="#a5201f" stroke="#3a0a0a" stroke-width="0.6"/>
<circle cx="128" cy="415.3" r="2.6" fill="#a5201f" stroke="#3a0a0a" stroke-width="0.6"/>
<circle cx="128.4" cy="420.9" r="2.6" fill="#a5201f" stroke="#3a0a0a" stroke-width="0.6"/>
<circle cx="127.4" cy="426.6" r="2.6" fill="#a5201f" stroke="#3a0a0a" stroke-width="0.6"/>
<circle cx="126.4" cy="430.1" r="2.6" fill="#a5201f" stroke="#3a0a0a" stroke-width="0.6"/>
<circle cx="125.3" cy="433.4" r="2.6" fill="#a5201f" stroke="#3a0a0a" stroke-width="0.6"/>
<circle cx="124.3" cy="436.2" r="2.6" fill="#a5201f" stroke="#3a0a0a" stroke-width="0.6"/>
<circle cx="122.9" cy="439.9" r="2.6" fill="#a5201f" stroke="#3a0a0a" stroke-width="0.6"/>
<circle cx="121.6" cy="443" r="2.6" fill="#a5201f" stroke="#3a0a0a" stroke-width="0.6"/>
<circle cx="120.2" cy="446.1" r="2.6" fill="#a5201f" stroke="#3a0a0a" stroke-width="0.6"/>
<circle cx="119.2" cy="449.1" r="2.6" fill="#a5201f" stroke="#3a0a0a" stroke-width="0.6"/>
<circle cx="129.8" cy="443" r="2.6" fill="#a5201f" stroke="#3a0a0a" stroke-width="0.6"/>
<circle cx="138.2" cy="438.9" r="2.6" fill="#a5201f" stroke="#3a0a0a" stroke-width="0.6"/>
<circle cx="143.2" cy="438.9" r="2.6" fill="#a5201f" stroke="#3a0a0a" stroke-width="0.6"/>
<circle cx="148.9" cy="438.9" r="2.6" fill="#a5201f" stroke="#3a0a0a" stroke-width="0.6"/>
<circle cx="153.4" cy="438.9" r="2.6" fill="#a5201f" stroke="#3a0a0a" stroke-width="0.6"/>
<circle cx="158.1" cy="438.9" r="2.6" fill="#a5201f" stroke="#3a0a0a" stroke-width="0.6"/>
<circle cx="167.3" cy="449.3" r="2.6" fill="#a5201f" stroke="#3a0a0a" stroke-width="0.6"/>
<circle cx="172.7" cy="455.4" r="2.6" fill="#a5201f" stroke="#3a0a0a" stroke-width="0.6"/>
<circle cx="180.7" cy="463.8" r="2.6" fill="#a5201f" stroke="#3a0a0a" stroke-width="0.6"/>
<circle cx="181.7" cy="459.7" r="2.6" fill="#a5201f" stroke="#3a0a0a" stroke-width="0.6"/>
<circle cx="183" cy="455" r="2.6" fill="#a5201f" stroke="#3a0a0a" stroke-width="0.6"/>
<circle cx="183.9" cy="450.8" r="2.6" fill="#a5201f" stroke="#3a0a0a" stroke-width="0.6"/>
<circle cx="185" cy="446.3" r="2.6" fill="#a5201f" stroke="#3a0a0a" stroke-width="0.6"/>
<circle cx="186.3" cy="442" r="2.6" fill="#a5201f" stroke="#3a0a0a" stroke-width="0.6"/>
<circle cx="187.2" cy="437.7" r="2.6" fill="#a5201f" stroke="#3a0a0a" stroke-width="0.6"/>
<circle cx="188.5" cy="433.4" r="2.6" fill="#a5201f" stroke="#3a0a0a" stroke-width="0.6"/>
<circle cx="190.6" cy="424.7" r="2.6" fill="#a5201f" stroke="#3a0a0a" stroke-width="0.6"/>
<circle cx="194.1" cy="416.9" r="2.6" fill="#a5201f" stroke="#3a0a0a" stroke-width="0.6"/>
<circle cx="196.9" cy="412" r="2.6" fill="#a5201f" stroke="#3a0a0a" stroke-width="0.6"/>
<circle cx="199.3" cy="407.6" r="2.6" fill="#a5201f" stroke="#3a0a0a" stroke-width="0.6"/>
<circle cx="206.8" cy="400.1" r="2.6" fill="#a5201f" stroke="#3a0a0a" stroke-width="0.6"/>
<circle cx="216.7" cy="390.6" r="2.6" fill="#a5201f" stroke="#3a0a0a" stroke-width="0.6"/>
<circle cx="229.3" cy="376.1" r="2.6" fill="#a5201f" stroke="#3a0a0a" stroke-width="0.6"/>
<circle cx="236.5" cy="368" r="2.6" fill="#a5201f" stroke="#3a0a0a" stroke-width="0.6"/>
<circle cx="248.1" cy="354.8" r="2.6" fill="#a5201f" stroke="#3a0a0a" stroke-width="0.6"/>
</g>
<g clip-path="url(#cb)"><g transform="matrix(1.1966,0,0,1.1966,133.05,-0.89)">
<path d="M361.5,156.5 L278,156.5 Q274.5,156.5 274.5,160 L274.5,157.5C274.8,159.2 275.5,164.2 276.4,168C277.3,171.8 278.5,176.2 279.8,180C281.1,183.8 282.6,187.3 284,191C285.4,194.7 286.9,198.2 288,202C289.1,205.8 289.7,209.7 290.3,214C290.9,218.3 291.2,223.3 291.4,228C291.6,232.7 291.6,237.5 291.3,242C291,246.5 290.2,251 289.6,255C289,259 288.3,262.2 287.5,266C286.7,269.8 286.1,273.5 285,277.5C283.9,281.5 282.5,286.2 281.2,290C279.9,293.8 279.3,296 277.4,300C275.5,304 272.3,309.5 270,314C267.7,318.5 266,322.8 263.6,327C261.2,331.2 256.9,337 255.5,339 Q253,343.3 257,343.3 L361.5,343.3 Z" fill="#d9d9d9" stroke="#505050" vector-effect="non-scaling-stroke" stroke-width="0.68"/>
<path d="M213.1,245C213.1,245.4 213.1,245.7 213.1,246.1C213,246.5 213,246.9 213,247.2C212.9,247.6 212.9,248 212.8,248.3C212.7,248.7 212.7,249.1 212.6,249.4C212.5,249.8 212.4,250.2 212.3,250.5C212.2,250.9 212.1,251.3 212,251.6C211.9,252 211.8,252.4 211.6,252.7C211.5,253.1 211.4,253.4 211.2,253.8C211.1,254.1 210.9,254.5 210.7,254.8C210.5,255.2 210.3,255.5 210.1,255.9C210,256.2 209.7,256.5 209.5,256.9C209.3,257.2 209.1,257.5 208.8,257.8C208.6,258.1 208.3,258.4 208,258.7C207.8,259 207.5,259.3 207.2,259.6C206.9,259.9 206.6,260.1 206.3,260.4C206,260.7 205.6,260.9 205.3,261.1C205,261.4 204.6,261.6 204.3,261.8C203.9,262 203.5,262.1 203.2,262.3C202.8,262.5 202.4,262.6 202,262.8C201.6,262.9 201.2,263 200.8,263.1C200.4,263.2 200,263.2 199.6,263.3C199.2,263.3 198.8,263.4 198.4,263.4C198,263.4 197.6,263.4 197.2,263.3C196.8,263.3 196.4,263.2 196,263.2C195.6,263.1 195.2,263 194.8,262.9C194.4,262.8 194.1,262.7 193.7,262.5C193.3,262.4 193,262.2 192.6,262C192.3,261.8 191.9,261.7 191.6,261.4C191.3,261.2 190.9,261 190.6,260.8C190.3,260.6 190,260.3 189.8,260.1C189.5,259.8 189.2,259.6 189,259.3C188.7,259 188.5,258.7 188.2,258.5C188,258.2 187.8,257.9 187.6,257.6C187.4,257.3 187.2,257.1 187,256.8C186.8,256.5 186.6,256.2 186.4,255.9C186.3,255.6 186.1,255.3 186,255C185.8,254.7 185.7,254.5 185.5,254.2C185.4,253.9 185.3,253.6 185.2,253.3C185,253 184.9,252.7 184.8,252.5C184.7,252.2 184.6,251.9 184.5,251.6C184.4,251.3 184.3,251.1 184.3,250.8C184.2,250.5 184.1,250.2 184,250C184,249.7 183.9,249.4 183.8,249.1C183.8,248.9 183.7,248.6 183.7,248.3C183.6,248 183.6,247.8 183.5,247.5C183.5,247.2 183.4,246.9 183.4,246.7C183.4,246.4 183.3,246.1 183.3,245.8C183.3,245.6 183.3,245.3 183.3,245C183.3,244.7 183.3,244.4 183.3,244.2C183.3,243.9 183.3,243.6 183.3,243.3C183.3,243 183.3,242.8 183.3,242.5C183.4,242.2 183.4,241.9 183.4,241.6C183.4,241.3 183.5,241.1 183.5,240.8C183.6,240.5 183.6,240.2 183.7,239.9C183.7,239.6 183.8,239.3 183.9,239C183.9,238.7 184,238.4 184.1,238.1C184.1,237.8 184.2,237.5 184.3,237.2C184.4,236.9 184.5,236.6 184.6,236.3C184.7,235.9 184.8,235.6 184.9,235.3C185.1,235 185.2,234.7 185.3,234.3C185.5,234 185.6,233.7 185.8,233.4C185.9,233 186.1,232.7 186.3,232.4C186.5,232 186.7,231.7 186.9,231.4C187.1,231.1 187.3,230.7 187.6,230.4C187.8,230.1 188.1,229.8 188.3,229.5C188.6,229.1 188.9,228.8 189.2,228.5C189.5,228.3 189.8,228 190.1,227.7C190.5,227.4 190.8,227.2 191.2,226.9C191.5,226.7 191.9,226.4 192.3,226.2C192.6,226 193,225.8 193.5,225.6C193.9,225.5 194.3,225.3 194.7,225.2C195.1,225 195.6,224.9 196,224.8C196.4,224.7 196.9,224.7 197.3,224.6C197.8,224.6 198.2,224.6 198.7,224.6C199.1,224.6 199.6,224.6 200,224.7C200.5,224.8 200.9,224.8 201.4,224.9C201.8,225.1 202.2,225.2 202.7,225.3C203.1,225.5 203.5,225.7 203.9,225.9C204.3,226.1 204.7,226.3 205.1,226.5C205.5,226.8 205.9,227 206.2,227.3C206.6,227.6 206.9,227.9 207.2,228.2C207.6,228.5 207.9,228.8 208.2,229.1C208.5,229.4 208.8,229.8 209,230.1C209.3,230.5 209.5,230.8 209.8,231.2C210,231.6 210.2,232 210.5,232.3C210.7,232.7 210.9,233.1 211,233.5C211.2,233.9 211.4,234.2 211.5,234.6C211.7,235 211.8,235.4 211.9,235.8C212.1,236.2 212.2,236.6 212.3,237C212.4,237.4 212.5,237.7 212.6,238.1C212.7,238.5 212.7,238.9 212.8,239.3C212.9,239.7 212.9,240.1 213,240.5C213,240.8 213.1,241.2 213.1,241.6C213.1,242 213.1,242.4 213.1,242.7C213.2,243.1 213.2,243.5 213.2,243.9C213.2,244.3 213.2,244.6 213.1,245Z" fill="none" stroke="#a0a0a0" vector-effect="non-scaling-stroke" stroke-width="0.64"/>
<path d="M228.3,245C228.3,245.7 228.3,246.4 228.3,247.1C228.2,247.8 228.2,248.5 228.1,249.2C228,249.9 228,250.6 227.9,251.3C227.8,252 227.6,252.7 227.5,253.4C227.4,254.1 227.2,254.8 227,255.5C226.9,256.2 226.7,256.9 226.5,257.6C226.2,258.3 226,259 225.8,259.7C225.5,260.4 225.3,261 225,261.7C224.7,262.4 224.4,263.1 224.1,263.8C223.7,264.4 223.4,265.1 223,265.8C222.7,266.4 222.3,267.1 221.9,267.7C221.5,268.4 221.1,269 220.7,269.7C220.2,270.3 219.8,270.9 219.3,271.5C218.8,272.2 218.3,272.8 217.8,273.4C217.2,274 216.7,274.6 216.1,275.1C215.6,275.7 215,276.3 214.4,276.8C213.7,277.3 213.1,277.9 212.5,278.4C211.8,278.9 211.1,279.4 210.4,279.8C209.7,280.3 209,280.7 208.3,281.1C207.5,281.5 206.8,281.9 206,282.2C205.2,282.6 204.4,282.9 203.6,283.1C202.8,283.4 201.9,283.6 201.1,283.8C200.3,284 199.4,284.2 198.6,284.3C197.7,284.4 196.9,284.5 196,284.5C195.1,284.5 194.3,284.5 193.4,284.5C192.6,284.4 191.7,284.3 190.8,284.1C190,284 189.2,283.8 188.3,283.6C187.5,283.3 186.7,283 185.9,282.7C185.1,282.4 184.3,282 183.6,281.6C182.8,281.2 182.1,280.8 181.4,280.3C180.7,279.8 180,279.3 179.3,278.8C178.7,278.3 178,277.7 177.5,277.1C176.9,276.5 176.3,275.9 175.8,275.3C175.2,274.7 174.7,274 174.2,273.4C173.8,272.7 173.3,272 172.9,271.4C172.5,270.7 172.1,270 171.7,269.3C171.4,268.6 171,267.9 170.7,267.2C170.4,266.5 170.1,265.8 169.9,265C169.6,264.3 169.4,263.6 169.2,262.9C168.9,262.2 168.8,261.5 168.6,260.8C168.4,260.1 168.2,259.4 168.1,258.8C168,258.1 167.8,257.4 167.7,256.7C167.6,256 167.5,255.4 167.4,254.7C167.3,254 167.2,253.4 167.2,252.7C167.1,252.1 167.1,251.4 167,250.8C167,250.1 166.9,249.5 166.9,248.8C166.9,248.2 166.9,247.5 166.8,246.9C166.8,246.3 166.8,245.6 166.8,245C166.8,244.4 166.9,243.7 166.9,243.1C166.9,242.5 166.9,241.8 167,241.2C167,240.5 167.1,239.9 167.1,239.3C167.2,238.6 167.3,238 167.3,237.3C167.4,236.7 167.5,236 167.6,235.4C167.7,234.7 167.8,234 167.9,233.4C168.1,232.7 168.2,232 168.4,231.4C168.5,230.7 168.7,230 168.9,229.3C169,228.6 169.2,228 169.5,227.3C169.7,226.6 169.9,225.9 170.2,225.2C170.4,224.5 170.7,223.8 171,223.1C171.3,222.4 171.6,221.7 172,221C172.3,220.3 172.7,219.6 173.1,218.9C173.5,218.2 173.9,217.5 174.3,216.8C174.8,216.1 175.3,215.4 175.8,214.7C176.3,214.1 176.8,213.4 177.4,212.8C178,212.1 178.6,211.5 179.2,210.9C179.8,210.3 180.5,209.7 181.2,209.2C181.9,208.6 182.6,208.1 183.3,207.6C184.1,207.1 184.8,206.7 185.6,206.2C186.4,205.8 187.2,205.4 188.1,205.1C188.9,204.8 189.8,204.5 190.6,204.2C191.5,203.9 192.4,203.7 193.3,203.6C194.2,203.4 195.1,203.3 196,203.3C196.9,203.2 197.8,203.2 198.7,203.2C199.6,203.3 200.6,203.4 201.5,203.5C202.4,203.7 203.3,203.8 204.1,204.1C205,204.3 205.9,204.6 206.7,205C207.6,205.3 208.4,205.7 209.2,206.1C210,206.5 210.8,207 211.6,207.5C212.3,207.9 213,208.5 213.7,209C214.4,209.6 215.1,210.2 215.7,210.8C216.4,211.4 217,212.1 217.6,212.7C218.1,213.4 218.7,214.1 219.2,214.7C219.7,215.4 220.2,216.1 220.7,216.9C221.1,217.6 221.6,218.3 222,219C222.4,219.7 222.8,220.5 223.1,221.2C223.5,222 223.8,222.7 224.1,223.4C224.4,224.2 224.7,224.9 225,225.6C225.2,226.4 225.5,227.1 225.7,227.9C225.9,228.6 226.1,229.3 226.3,230C226.5,230.8 226.7,231.5 226.9,232.2C227,232.9 227.2,233.6 227.3,234.4C227.5,235.1 227.6,235.8 227.7,236.5C227.8,237.2 227.9,237.9 228,238.6C228.1,239.3 228.1,240.1 228.2,240.8C228.2,241.5 228.3,242.2 228.3,242.9C228.3,243.6 228.3,244.3 228.3,245Z" fill="none" stroke="#a0a0a0" vector-effect="non-scaling-stroke" stroke-width="0.64"/>
<path d="M243.4,245C243.3,246 243.2,247.1 243.1,248.1C243,249.1 242.9,250.1 242.7,251.1C242.5,252.2 242.3,253.2 242.1,254.2C241.9,255.2 241.7,256.2 241.4,257.2C241.2,258.2 240.9,259.2 240.6,260.1C240.3,261.1 240,262.1 239.7,263.1C239.3,264.1 239,265 238.6,266C238.2,267 237.8,267.9 237.4,268.9C237,269.9 236.6,270.8 236.1,271.8C235.7,272.8 235.2,273.7 234.7,274.7C234.2,275.7 233.7,276.7 233.2,277.6C232.7,278.6 232.1,279.6 231.6,280.6C231,281.5 230.4,282.5 229.8,283.5C229.1,284.5 228.5,285.5 227.8,286.4C227.1,287.4 226.4,288.4 225.6,289.3C224.9,290.3 224.1,291.2 223.2,292.2C222.4,293.1 221.5,294 220.6,294.9C219.7,295.8 218.8,296.7 217.8,297.6C216.8,298.4 215.7,299.2 214.7,300C213.6,300.8 212.5,301.5 211.3,302.2C210.2,302.9 209,303.5 207.8,304.1C206.5,304.7 205.3,305.2 204,305.7C202.7,306.1 201.4,306.5 200.1,306.9C198.7,307.2 197.4,307.4 196,307.6C194.6,307.8 193.3,307.9 191.9,307.9C190.5,307.9 189.1,307.9 187.7,307.8C186.4,307.6 185,307.4 183.6,307.1C182.3,306.8 181,306.5 179.6,306C178.3,305.6 177.1,305.1 175.8,304.5C174.6,303.9 173.3,303.3 172.2,302.5C171,301.8 169.9,301.1 168.8,300.2C167.7,299.4 166.6,298.5 165.6,297.6C164.6,296.7 163.7,295.7 162.8,294.7C161.9,293.7 161,292.7 160.2,291.6C159.4,290.6 158.7,289.5 158,288.4C157.3,287.3 156.6,286.1 156,285C155.4,283.9 154.8,282.7 154.3,281.5C153.8,280.4 153.3,279.2 152.9,278.1C152.5,276.9 152.1,275.7 151.7,274.6C151.4,273.4 151,272.3 150.8,271.1C150.5,270 150.2,268.8 150,267.7C149.7,266.6 149.5,265.4 149.4,264.3C149.2,263.2 149,262.1 148.9,261C148.8,259.9 148.7,258.8 148.6,257.7C148.5,256.6 148.4,255.5 148.4,254.5C148.4,253.4 148.3,252.3 148.3,251.3C148.3,250.2 148.3,249.2 148.3,248.1C148.4,247.1 148.4,246 148.5,245C148.5,244 148.6,242.9 148.7,241.9C148.8,240.9 148.9,239.8 149,238.8C149.1,237.8 149.2,236.8 149.4,235.7C149.5,234.7 149.7,233.7 149.8,232.6C150,231.6 150.2,230.6 150.4,229.5C150.6,228.5 150.9,227.5 151.1,226.4C151.4,225.4 151.6,224.3 151.9,223.3C152.2,222.2 152.5,221.1 152.8,220.1C153.1,219 153.5,217.9 153.9,216.9C154.3,215.8 154.7,214.7 155.1,213.6C155.5,212.5 156,211.4 156.5,210.3C157,209.3 157.5,208.2 158.1,207.1C158.6,206 159.2,204.9 159.9,203.8C160.5,202.8 161.2,201.7 162,200.6C162.7,199.6 163.5,198.5 164.3,197.5C165.1,196.5 166,195.5 166.9,194.5C167.8,193.6 168.7,192.6 169.7,191.7C170.7,190.8 171.8,190 172.9,189.2C174,188.3 175.1,187.6 176.3,186.9C177.4,186.2 178.7,185.5 179.9,184.9C181.1,184.3 182.4,183.8 183.7,183.3C185,182.9 186.4,182.5 187.7,182.2C189.1,181.9 190.5,181.6 191.8,181.5C193.2,181.3 194.6,181.2 196,181.2C197.4,181.2 198.8,181.3 200.2,181.4C201.5,181.6 202.9,181.8 204.3,182.1C205.6,182.4 207,182.8 208.3,183.3C209.6,183.7 210.9,184.2 212.1,184.8C213.4,185.4 214.6,186.1 215.8,186.7C217,187.4 218.1,188.2 219.2,189C220.3,189.8 221.3,190.7 222.4,191.6C223.4,192.4 224.3,193.4 225.3,194.3C226.2,195.3 227.1,196.3 227.9,197.3C228.7,198.3 229.5,199.3 230.3,200.4C231,201.4 231.7,202.5 232.4,203.5C233,204.6 233.7,205.7 234.3,206.7C234.8,207.8 235.4,208.9 235.9,210C236.4,211.1 236.9,212.2 237.4,213.2C237.9,214.3 238.3,215.4 238.7,216.5C239.1,217.6 239.5,218.6 239.8,219.7C240.1,220.8 240.5,221.9 240.8,222.9C241.1,224 241.3,225.1 241.6,226.1C241.8,227.2 242.1,228.2 242.3,229.3C242.5,230.4 242.6,231.4 242.8,232.5C242.9,233.5 243.1,234.6 243.2,235.6C243.3,236.7 243.3,237.7 243.4,238.8C243.4,239.8 243.4,240.9 243.4,241.9C243.4,242.9 243.4,244 243.4,245Z" fill="none" stroke="#a0a0a0" vector-effect="non-scaling-stroke" stroke-width="0.64"/>
<path d="M260.4,245C260.3,246.4 260.2,247.8 260,249.2C259.8,250.6 259.6,252 259.4,253.3C259.2,254.7 258.9,256.1 258.6,257.5C258.3,258.8 257.9,260.2 257.6,261.5C257.2,262.8 256.8,264.2 256.4,265.5C255.9,266.8 255.5,268.1 255,269.4C254.5,270.7 254,272 253.5,273.3C252.9,274.6 252.4,275.9 251.8,277.2C251.2,278.5 250.7,279.8 250,281.1C249.4,282.4 248.8,283.7 248.2,285C247.5,286.3 246.9,287.7 246.2,289C245.5,290.3 244.8,291.7 244,293C243.3,294.4 242.5,295.7 241.7,297.1C240.9,298.5 240.1,299.9 239.2,301.3C238.3,302.7 237.4,304.1 236.4,305.5C235.4,306.9 234.4,308.3 233.3,309.6C232.2,311 231.1,312.4 229.9,313.8C228.7,315.2 227.5,316.5 226.2,317.8C224.8,319.1 223.5,320.4 222,321.6C220.6,322.9 219.1,324 217.5,325.2C215.9,326.3 214.3,327.3 212.6,328.3C210.9,329.3 209.1,330.2 207.3,331C205.5,331.8 203.7,332.5 201.8,333.1C199.9,333.6 197.9,334.1 196,334.5C194.1,334.9 192.1,335.1 190.1,335.3C188.1,335.4 186.1,335.4 184.1,335.3C182.1,335.2 180.1,335 178.2,334.6C176.2,334.2 174.3,333.8 172.4,333.2C170.5,332.6 168.6,331.8 166.8,331C165,330.2 163.2,329.3 161.5,328.2C159.8,327.2 158.2,326.1 156.6,324.9C155.1,323.7 153.5,322.3 152.1,321C150.7,319.6 149.4,318.2 148.1,316.7C146.8,315.2 145.6,313.7 144.5,312.1C143.4,310.6 142.3,308.9 141.4,307.3C140.4,305.7 139.5,304 138.7,302.3C137.8,300.7 137.1,299 136.4,297.3C135.7,295.6 135,293.9 134.4,292.2C133.8,290.6 133.3,288.9 132.8,287.2C132.3,285.5 131.9,283.9 131.5,282.2C131.1,280.6 130.7,279 130.4,277.3C130.1,275.7 129.8,274.1 129.5,272.5C129.3,270.9 129,269.4 128.8,267.8C128.6,266.2 128.4,264.7 128.3,263.1C128.1,261.6 128,260.1 127.9,258.6C127.8,257 127.7,255.5 127.6,254C127.5,252.5 127.5,251 127.5,249.5C127.4,248 127.4,246.5 127.5,245C127.5,243.5 127.5,242 127.6,240.5C127.7,239 127.8,237.5 127.9,236C128,234.5 128.2,233 128.4,231.5C128.5,230 128.7,228.5 129,227C129.2,225.5 129.5,224 129.8,222.5C130.1,221 130.4,219.5 130.8,218C131.1,216.5 131.5,214.9 131.9,213.4C132.4,211.9 132.8,210.4 133.3,208.8C133.8,207.3 134.4,205.7 134.9,204.2C135.5,202.7 136.1,201.1 136.8,199.6C137.5,198 138.2,196.5 138.9,194.9C139.7,193.4 140.5,191.8 141.3,190.3C142.2,188.8 143.1,187.3 144,185.7C145,184.2 146,182.7 147.1,181.3C148.2,179.8 149.3,178.3 150.5,176.9C151.7,175.5 153,174.1 154.3,172.7C155.6,171.4 157,170.1 158.4,168.8C159.9,167.6 161.4,166.4 163,165.3C164.5,164.1 166.2,163.1 167.9,162.1C169.5,161.1 171.3,160.2 173.1,159.4C174.8,158.6 176.7,157.8 178.5,157.2C180.4,156.6 182.3,156.1 184.2,155.7C186.2,155.3 188.1,155 190.1,154.8C192,154.6 194,154.5 196,154.5C198,154.6 199.9,154.7 201.9,155C203.8,155.3 205.8,155.7 207.7,156.1C209.6,156.6 211.5,157.2 213.3,157.9C215.2,158.6 217,159.4 218.7,160.3C220.4,161.2 222.1,162.2 223.7,163.3C225.4,164.3 226.9,165.5 228.5,166.7C230,167.9 231.4,169.1 232.8,170.5C234.1,171.8 235.4,173.1 236.7,174.5C237.9,176 239.1,177.4 240.2,178.9C241.3,180.3 242.3,181.8 243.3,183.3C244.3,184.9 245.2,186.4 246.1,187.9C246.9,189.4 247.7,191 248.5,192.5C249.3,194 250,195.6 250.6,197.1C251.3,198.6 251.9,200.1 252.5,201.6C253.1,203.2 253.6,204.7 254.2,206.1C254.7,207.6 255.1,209.1 255.6,210.6C256,212.1 256.5,213.5 256.9,215C257.2,216.4 257.6,217.9 257.9,219.3C258.3,220.8 258.6,222.2 258.8,223.7C259.1,225.1 259.3,226.5 259.6,228C259.8,229.4 259.9,230.8 260.1,232.3C260.2,233.7 260.3,235.1 260.4,236.5C260.5,237.9 260.5,239.4 260.5,240.8C260.5,242.2 260.4,243.6 260.4,245Z" fill="none" stroke="#a0a0a0" vector-effect="non-scaling-stroke" stroke-width="0.64"/>
<path d="M271.1,245C271,246.6 270.9,248.3 270.7,249.9C270.5,251.5 270.2,253.1 269.9,254.7C269.6,256.3 269.2,257.9 268.7,259.5C268.3,261 267.8,262.6 267.3,264.1C266.8,265.6 266.2,267.1 265.7,268.6C265.1,270.1 264.4,271.6 263.8,273.1C263.2,274.6 262.5,276 261.8,277.5C261.1,278.9 260.4,280.3 259.7,281.8C259,283.2 258.3,284.7 257.6,286.2C256.9,287.6 256.1,289.1 255.4,290.6C254.7,292.1 253.9,293.6 253.2,295.1C252.4,296.7 251.6,298.2 250.8,299.8C250,301.4 249.2,303.1 248.4,304.7C247.5,306.4 246.6,308.1 245.7,309.8C244.8,311.5 243.8,313.2 242.8,315C241.7,316.8 240.7,318.5 239.5,320.3C238.3,322.1 237.1,323.9 235.8,325.7C234.5,327.4 233.1,329.2 231.6,330.9C230.1,332.6 228.5,334.4 226.9,336C225.2,337.6 223.5,339.2 221.6,340.7C219.8,342.2 217.9,343.6 215.9,344.9C213.9,346.2 211.8,347.4 209.6,348.5C207.5,349.5 205.2,350.5 203,351.3C200.7,352.1 198.4,352.8 196,353.3C193.6,353.8 191.2,354.1 188.8,354.3C186.4,354.5 184,354.5 181.6,354.4C179.2,354.2 176.8,353.9 174.4,353.5C172.1,353 169.7,352.4 167.4,351.6C165.2,350.8 162.9,349.9 160.8,348.8C158.6,347.8 156.5,346.6 154.5,345.3C152.4,344 150.5,342.5 148.7,341C146.8,339.5 145,337.8 143.4,336.2C141.7,334.5 140.1,332.7 138.6,330.8C137.2,329 135.8,327.1 134.5,325.2C133.2,323.3 132,321.3 130.8,319.3C129.7,317.3 128.7,315.3 127.7,313.3C126.7,311.3 125.9,309.2 125,307.2C124.2,305.2 123.5,303.2 122.8,301.2C122.1,299.2 121.5,297.2 120.9,295.2C120.3,293.2 119.8,291.2 119.3,289.3C118.9,287.3 118.4,285.4 118,283.4C117.7,281.5 117.3,279.6 117,277.7C116.7,275.8 116.4,274 116.2,272.1C116,270.2 115.8,268.4 115.6,266.5C115.4,264.7 115.3,262.9 115.2,261.1C115.1,259.3 115,257.5 115,255.7C115,253.9 115,252.1 115,250.3C115.1,248.5 115.1,246.8 115.2,245C115.3,243.2 115.5,241.5 115.6,239.7C115.8,238 116,236.2 116.2,234.5C116.4,232.8 116.7,231 117,229.3C117.3,227.5 117.6,225.8 117.9,224.1C118.2,222.3 118.6,220.6 119,218.8C119.3,217.1 119.7,215.4 120.2,213.6C120.6,211.8 121,210.1 121.5,208.3C122,206.5 122.5,204.7 123,202.9C123.6,201.1 124.1,199.2 124.7,197.4C125.3,195.5 125.9,193.6 126.6,191.8C127.3,189.9 128,188 128.8,186C129.5,184.1 130.3,182.2 131.2,180.2C132.1,178.3 133,176.3 134.1,174.4C135.1,172.4 136.2,170.5 137.3,168.5C138.5,166.6 139.7,164.7 141.1,162.8C142.4,160.9 143.8,159 145.3,157.2C146.8,155.4 148.4,153.7 150.1,152C151.8,150.3 153.6,148.7 155.5,147.2C157.4,145.7 159.3,144.2 161.4,142.9C163.4,141.7 165.5,140.5 167.7,139.4C169.9,138.4 172.2,137.4 174.5,136.7C176.8,135.9 179.1,135.3 181.5,134.8C183.9,134.4 186.3,134.1 188.7,134C191.1,133.8 193.6,133.9 196,134.1C198.4,134.3 200.8,134.6 203.2,135.2C205.6,135.7 207.9,136.4 210.2,137.2C212.5,138 214.7,139 216.9,140.1C219,141.2 221.1,142.4 223.1,143.8C225.1,145.1 227.1,146.6 228.9,148.1C230.7,149.6 232.5,151.3 234.1,153C235.8,154.6 237.3,156.4 238.8,158.2C240.3,160 241.7,161.8 243,163.6C244.3,165.5 245.5,167.4 246.6,169.2C247.8,171.1 248.8,173 249.9,174.8C250.9,176.7 251.8,178.5 252.7,180.4C253.6,182.2 254.4,184 255.2,185.8C256,187.6 256.8,189.3 257.5,191.1C258.2,192.8 258.9,194.5 259.6,196.2C260.3,197.9 260.9,199.5 261.6,201.2C262.2,202.8 262.8,204.5 263.4,206.1C264,207.7 264.6,209.3 265.1,210.9C265.7,212.5 266.2,214.1 266.7,215.7C267.2,217.3 267.7,218.9 268.1,220.5C268.5,222.1 268.9,223.7 269.3,225.4C269.6,227 270,228.6 270.2,230.2C270.5,231.9 270.7,233.5 270.9,235.1C271,236.8 271.1,238.4 271.2,240.1C271.2,241.7 271.2,243.4 271.1,245Z" fill="none" stroke="#a0a0a0" vector-effect="non-scaling-stroke" stroke-width="0.64"/>
<path d="M67.9,498.8C72.6,496.9 86.6,490.9 95.9,487.5C105.2,484.1 116.5,480.2 123.8,478.2C131.2,476.2 134.9,475.3 140,475.4C145.1,475.5 148,477.1 154.6,478.9C161.2,480.7 173.1,483 179.3,486.3C185.5,489.6 189.6,496.7 191.6,498.8" fill="none" stroke="#a8a8a8" vector-effect="non-scaling-stroke" stroke-width="0.59"/>
<path d="M145.5,2C146.6,2.6 148.5,4.6 152,5.5C155.5,6.4 162.4,7.3 166.6,7.4C170.8,7.5 174.2,6.9 177,6C179.8,5.1 182.4,2.7 183.5,2" fill="none" stroke="#a8a8a8" vector-effect="non-scaling-stroke" stroke-width="0.59"/>
<path d="M42,485.7C46.7,482.6 61,473.4 70,467C79,460.6 88.7,453.3 95.9,447.5C103.1,441.7 108.3,437.1 113,432C117.7,426.9 121.4,422.3 124,417C126.6,411.7 128.1,405.3 128.7,400C129.3,394.7 128.6,390 127.5,385C126.4,380 124.9,377.5 122.3,370C119.7,362.5 115.1,350 111.7,340C108.3,330 104.4,320 102,310C99.6,300 98.1,288 97.3,280C96.5,272 97.1,268 97.2,262C97.3,256 97.5,250.2 97.7,244C97.9,237.8 97.9,230.3 98.3,225C98.7,219.7 99,216.2 99.9,212C100.8,207.8 101.9,205.3 103.7,200C105.5,194.7 108.2,186.7 110.5,180C112.8,173.3 116,165 117.8,160C119.6,155 118.1,155.5 121.1,150C124.1,144.5 129.8,133.7 136,127C142.2,120.3 149.7,114 158,110C166.3,106 177.1,103.5 185.8,103.3C194.5,103 201.9,104.9 210,108.5C218.1,112.1 227.1,118.1 234.6,125C242.1,131.9 248.9,140.8 254.9,150C260.9,159.2 266.5,170.8 270.7,180C274.9,189.2 278.1,197.5 280.1,205C282.1,212.5 282.1,218.5 282.5,225C282.9,231.5 283.4,236.8 282.8,244C282.2,251.2 280.6,260.3 278.9,268C277.2,275.7 275.5,282.2 272.5,290C269.5,297.8 265.9,306.7 261,315C256.1,323.3 249.7,331.7 243,340C236.3,348.3 228.2,356.7 220.7,365C213.2,373.3 203.6,383.2 198,390C192.4,396.8 189.5,400.8 187,405.6C184.5,410.4 183.6,414.4 183,418.7C182.4,423 182.6,426.7 183.5,431.7C184.4,436.7 186.5,443.7 188.6,448.9C190.7,454.1 193.8,459.5 196,463C198.2,466.5 199.6,466.5 201.9,470C204.2,473.5 207.2,479.2 210,484C212.8,488.8 217.3,496.3 218.8,498.8" fill="none" stroke="#9a9a9a" vector-effect="non-scaling-stroke" stroke-width="0.59"/>
<path d="M42,481.9C45.8,479.1 57.6,470.6 65,465C72.4,459.4 80.4,453.2 86.6,448.4C92.8,443.6 98,439.4 102,436C106,432.6 108.4,430.5 110.8,427.9C113.2,425.3 114.7,423.5 116.4,420.5C118.1,417.5 119.9,413.8 121,410C122.1,406.2 122.9,402.2 123,398C123.1,393.8 122.3,389.7 121.5,385C120.7,380.3 120.6,377.5 117.9,370C115.2,362.5 108.9,350 105.5,340C102.1,330 99.7,320 97.6,310C95.5,300 93.5,288 92.9,280C92.3,272 93.7,268 94,262C94.3,256 94.5,250.2 94.8,244C95.1,237.8 95.2,230.3 95.6,225C95.9,219.7 96.2,216.2 96.9,212C97.6,207.8 98.2,205.3 99.8,200C101.4,194.7 104.1,186.7 106.3,180C108.5,173.3 111.3,165 113,160C114.7,155 113.9,155.8 116.7,150C119.5,144.2 124.1,132.7 130,125C135.9,117.3 143.2,109.1 152,104C160.8,98.9 173.3,94.9 183,94.4C192.7,93.9 200.7,96.1 210,101.2C219.3,106.3 231.1,116.9 239,125C246.9,133.1 251.7,140.8 257.5,150C263.3,159.2 269.8,170.8 274,180C278.2,189.2 280.9,197.5 282.7,205C284.5,212.5 284.5,218.5 285,225C285.5,231.5 286,236.8 285.5,244C285,251.2 283.5,260.3 281.8,268C280.1,275.7 278.1,282.2 275.1,290C272.1,297.8 268.5,306.7 263.6,315C258.7,323.3 252.2,331.7 245.7,340C239.1,348.3 230.6,357 224.3,365C218,373 211.8,382.4 208,388C204.2,393.6 203.6,394.9 201.6,398.6C199.6,402.3 197.4,406 196,410C194.6,414 193.9,418.5 193.3,422.8C192.7,427.1 191.6,430.6 192.4,435.9C193.2,441.2 195.4,448.8 197.9,454.5C200.4,460.2 204.3,465.1 207.2,470C210,474.9 212.4,479.2 215,484C217.6,488.8 221.2,496.3 222.5,498.8" fill="none" stroke="#9a9a9a" vector-effect="non-scaling-stroke" stroke-width="0.59"/>
<path d="M42,477.3C45,475.2 54.1,468.7 60,464.5C65.9,460.3 72,456.2 77.2,452.1C82.4,448 87,444 91,440C95,436 98.5,431.6 101.5,427.9C104.5,424.2 106.8,421.1 109,418C111.2,414.9 113,412.3 114.5,409.3C116,406.3 117.6,403.6 118.2,400C118.8,396.4 118.7,393 118,388C117.3,383 117.1,378 114.3,370C111.5,362 104.5,350 101.1,340C97.7,330 96.1,320 94.1,310C92.1,300 89.5,288 88.9,280C88.4,272 90.2,268 90.8,262C91.4,256 91.9,250.2 92.3,244C92.7,237.8 92.7,230.3 93,225C93.3,219.7 93.7,216.2 94.3,212C94.9,207.8 95.5,205.3 96.7,200C97.9,194.7 99.8,186.7 101.6,180C103.4,173.3 105.6,165 107.4,160C109.2,155 109.5,156.3 112.3,150C115.1,143.7 118.5,131 124,122C129.4,113 138.5,102.2 145,96C151.5,89.8 157.3,87.5 163,85C168.7,82.5 174,81.4 179.3,81.2C184.6,81 189.9,82.1 195,84C200.1,85.9 201.9,85.7 210,92.5C218.1,99.3 235.1,115.4 243.4,125C251.8,134.6 254.8,140.8 260.1,150C265.5,159.2 271.3,170.8 275.5,180C279.7,189.2 283.4,197.5 285.4,205C287.4,212.5 287.2,218.5 287.6,225C288.1,231.5 288.6,236.8 288.1,244C287.6,251.2 286.3,260.3 284.6,268C282.9,275.7 280.9,282.2 277.8,290C274.8,297.8 271.2,306.7 266.3,315C261.4,323.3 254.7,331.7 248.3,340C241.9,348.3 233.2,357.7 227.8,365C222.4,372.3 218.5,378.4 216,384C213.5,389.6 214.3,393.9 212.8,398.6C211.3,403.3 208.6,407.4 207,412C205.4,416.6 204.2,421.6 203.5,426.5C202.8,431.4 202.3,436.6 202.6,441.4C202.8,446.1 203.8,450.2 205,455C206.2,459.8 207.6,465.2 209.8,470C212,474.8 215.3,479.2 218,484C220.7,488.8 224.4,496.3 225.7,498.8" fill="none" stroke="#9a9a9a" vector-effect="non-scaling-stroke" stroke-width="0.59"/>
<path d="M42,472.6C44.2,470.9 50.7,465.9 55,462.5C59.3,459.1 63.9,455.4 67.9,452.1C71.9,448.9 75.6,446.1 79,443C82.4,439.9 85.7,436.6 88.4,433.5C91.2,430.4 93.3,427.6 95.5,424.5C97.7,421.4 99.9,418.5 101.5,414.9C103.1,411.3 104.2,406.8 105,403C105.8,399.2 106.1,393.8 106.3,392" fill="none" stroke="#9a9a9a" vector-effect="non-scaling-stroke" stroke-width="0.59"/>
<path d="M256,139C257.1,140.8 259.2,143.2 262.8,150C266.4,156.8 273.6,171.2 277.7,180C281.8,188.8 285.4,195.5 287.5,203C289.6,210.5 290.1,218.5 290.6,225C291.2,231.5 291.1,237 290.8,242C290.5,247 289.7,250.7 289,255C288.3,259.3 288,262.2 286.6,268C285.2,273.8 283.5,282.3 280.7,290C277.9,297.7 274.4,306 269.6,314C264.8,322 258.4,329.5 252,338C245.6,346.5 236.7,357.3 231.3,365C225.9,372.7 222.1,378.4 219.5,384C216.9,389.6 217.4,393.9 215.8,398.6C214.2,403.3 211.6,407.4 210,412C208.4,416.6 207.1,421.6 206.3,426.5C205.5,431.4 205,436.6 205.3,441.4C205.6,446.1 206.6,450.2 208,455C209.4,459.8 211.3,465.2 213.5,470C215.7,474.8 218.5,479.2 221,484C223.5,488.8 227.1,496.3 228.3,498.8" fill="none" stroke="#9a9a9a" vector-effect="non-scaling-stroke" stroke-width="0.59"/>
<path d="M69,200 L69.5,160 L70.2,130 L71.2,110 L74.9,85.9 L86.1,62.6 L103.8,42.1 L125.4,26.4 L150,17.5 L175,15.2 L191,16.5 L210.2,22.6 L230,34.3 L256.3,53.1 L282.4,77.9 L305.7,110 L320.3,134.5 L329,157 L335.4,179.8 L340,196 L342.8,209.6 L345.5,230 L346.6,250.6 L345.5,271 L342.8,291.5 L339.5,309 L335.4,325 L329.4,344.5 L322.7,361.3 L303.7,394.8 L282.4,421.7 L255.3,448.7 L226.6,470.5 L198.5,482.8 L173.8,486.3 L149.2,483.5 L124.5,475.8 L103.3,459.6 L85.6,439.1 L75.4,414.9 L71.5,397.6 L69,350 L68.6,280 L69,200" fill="none" stroke="#222" vector-effect="non-scaling-stroke" stroke-width="0.68"/>
<path d="M142,41.4 L165.4,38 L167,41 L136,55.7 L134,53Z" fill="#d9d9d9" stroke="#404040" vector-effect="non-scaling-stroke" stroke-width="0.59" stroke-linejoin="round"/>
<path d="M134.1,53.9 L123.5,66 L115.1,79 L107.7,89.2 L100.2,96.7 L101.2,98.6 L98.4,103.2 L104.9,107.9 L109,107 L113.3,94.3 L119,81.6 L127.4,68.8 L136.6,57Z" fill="#d9d9d9" stroke="#404040" vector-effect="non-scaling-stroke" stroke-width="0.59" stroke-linejoin="round"/>
<path d="M165.5,35.8 Q163.5,37.5 166,40 L220.5,58.8 L222,55 Z" fill="#d9d9d9" stroke="#404040" vector-effect="non-scaling-stroke" stroke-width="0.59" stroke-linejoin="round"/>
<path d="M214.7,59.1 L222.5,57.3 L239.5,78.6 L231.7,83.8Z" fill="#d9d9d9" stroke="#404040" vector-effect="non-scaling-stroke" stroke-width="0.59" stroke-linejoin="round"/>
<path d="M232.4,87.2 L242,81.2 L257.7,86.4 L259,91.7 L243.4,93 L238.2,96.1Z" fill="#d9d9d9" stroke="#404040" vector-effect="non-scaling-stroke" stroke-width="0.59" stroke-linejoin="round"/>
<path d="M237.5,96 L248.6,96 L280.5,150.8 L274.5,153.8Z" fill="#d9d9d9" stroke="#404040" vector-effect="non-scaling-stroke" stroke-width="0.59" stroke-linejoin="round"/>
<path d="M250.3,95.5 L264.4,95.4 L296.1,147.3 Q296.6,150.4 294.5,150.5 L280.5,150.5 L248.4,97.4 Q248.4,95.5 250.3,95.5Z" fill="#d9d9d9" stroke="#404040" vector-effect="non-scaling-stroke" stroke-width="0.59" stroke-linejoin="round"/>
<path d="M274.5,150.8 L295.8,150.8 L295.8,153.6 L274.5,153.8Z" fill="#d9d9d9" stroke="#404040" vector-effect="non-scaling-stroke" stroke-width="0.59" stroke-linejoin="round"/>
<path d="M77.4,374.5 L90,374.5 L90,370.7 L94.2,370.7 L94.2,385.8 L90,385.8 L90,379.5 L77.4,379.5Z" fill="#d9d9d9" stroke="#404040" vector-effect="non-scaling-stroke" stroke-width="0.59" stroke-linejoin="round"/>
<path d="M98.5,369.5 L102.5,367 L120.5,394 L117.5,397.5Z" fill="#d9d9d9" stroke="#404040" vector-effect="non-scaling-stroke" stroke-width="0.59" stroke-linejoin="round"/>
<path d="M117.5,397.5 L121,397 L126,410 L127.5,420 L125.5,424.5 L118,424.5Z" fill="#d9d9d9" stroke="#404040" vector-effect="non-scaling-stroke" stroke-width="0.59" stroke-linejoin="round"/>
<path d="M120.5,425.5 L125.5,425 L124,433 L121,442 L119.5,455.5 L114,450.5 L113.5,447Z" fill="#d9d9d9" stroke="#404040" vector-effect="non-scaling-stroke" stroke-width="0.59" stroke-linejoin="round"/>
<path d="M126.5,450 L127.5,444 L135.5,438.5 L160.2,438.5 L163.5,443 L172,454 L175.5,460 L173.5,462 L167,457 L160.5,445 L136,444.5Z" fill="#d9d9d9" stroke="#404040" vector-effect="non-scaling-stroke" stroke-width="0.59" stroke-linejoin="round"/>
<path d="M191.5,424 L198.5,408 L205.5,401.5 L211,398.5 L214.5,401 L206,412 L196.5,428 L192.5,428.5Z" fill="#d9d9d9" stroke="#404040" vector-effect="non-scaling-stroke" stroke-width="0.59" stroke-linejoin="round"/>
<path d="M175.6,466.8 L177.8,463.6 L182.5,463.8 L181.5,467Z" fill="#d9d9d9" stroke="#404040" vector-effect="non-scaling-stroke" stroke-width="0.59" stroke-linejoin="round"/>
<path d="M210.3,397.8 L254.9,347.8 L257.5,349.4 L247.1,364.9 L251,369.7 L242.3,378.4 L237.4,389.1 L231.6,386.2 L213.2,400.7Z" fill="#d9d9d9" stroke="#404040" vector-effect="non-scaling-stroke" stroke-width="0.59" stroke-linejoin="round"/>
<path d="M255.8,347.6 L281,347.6 L281.4,349.8 L257.8,349.8Z" fill="#d9d9d9" stroke="#404040" vector-effect="non-scaling-stroke" stroke-width="0.59" stroke-linejoin="round"/>
<path d="M267.5,350.9 L281,350.9 L282.6,355.2 L248.1,405.5 L232.6,405.5 L233.6,402.6Z" fill="#d9d9d9" stroke="#404040" vector-effect="non-scaling-stroke" stroke-width="0.59" stroke-linejoin="round"/>
<path d="M104.8,113.6C104,116 101.4,122.8 99.8,128C98.2,133.2 96.5,139.7 95.2,145C93.9,150.3 93.3,154.2 92.2,160C91.1,165.8 89.6,172.5 88.6,180C87.6,187.5 86.9,195 86.2,205C85.5,215 84.5,228.3 84.2,240C83.9,251.7 84.2,264.2 84.6,275C85,285.8 85.6,296.2 86.4,305C87.2,313.8 88.2,321.8 89.2,328C90.2,334.2 91.6,337.8 92.6,342C93.6,346.2 94.8,351.2 95.2,353 L97.6,353 C97.2,351.2 96,346.2 95,342C94.1,337.8 92.7,334.2 91.7,328C90.6,321.8 89.7,313.8 88.9,305C88.2,296.2 87.5,285.8 87.2,275C86.8,264.2 86.6,251.7 86.8,240C87.1,228.3 88.2,215 88.9,205C89.7,195 90.4,187.5 91.4,180C92.4,172.5 93.9,165.8 95,160C96.1,154.2 96.8,150.3 98,145C99.3,139.7 101.1,133.2 102.7,128C104.3,122.8 106.9,116 107.7,113.6Z" fill="#f2f2f2" stroke="#333" vector-effect="non-scaling-stroke" stroke-width="0.59"/>
<path d="M240.6,96.2 L249.7,110.6 Q251.8,112.6 256.6,111.8 L248.6,96.2 Z M265.4,133.4 Q265.9,131.4 268.4,131.3 L269.6,131.3 L280,149.8 L279.6,150.6 L275.6,151 Z M255.5,124.8 L261.6,120.8" fill="#fff" stroke="#404040" vector-effect="non-scaling-stroke" stroke-width="0.51"/>
<path d="M123.5,66 L127.4,68.8 M115.1,79 L119,81.6 M107.7,89.2 L112.8,94" fill="none" stroke="#404040" vector-effect="non-scaling-stroke" stroke-width="0.59"/>
<path d="M192,43.6 L190.8,47.8 M206.5,48.5 L205.2,52.8" fill="none" stroke="#404040" vector-effect="non-scaling-stroke" stroke-width="0.59"/>
<path d="M241,368 L247.5,376" fill="none" stroke="#404040" vector-effect="non-scaling-stroke" stroke-width="0.59"/>
<path d="M42,489.7C47.2,486.2 61.7,476.1 73,468.6C84.3,461.2 98.8,452.1 110,445C121.2,437.9 132.2,431.2 140,426C147.8,420.8 152,417.4 157,413.5C162,409.6 165.5,406.1 170,402.5C174.5,398.9 179,395.9 184,392C189,388.1 194.6,383.5 200,379C205.4,374.5 209.7,371.5 216.3,365C222.9,358.5 232.6,348.3 239.5,340C246.4,331.7 252.4,323.3 257.5,315C262.6,306.7 266.9,297.2 269.8,290C272.8,282.8 273.7,277.7 275.2,272C276.7,266.3 278.1,260.7 278.9,256C279.7,251.3 280,248.7 280.2,244C280.4,239.3 280.7,234 280.3,228C279.9,222 280,216 278,208C276,200 272.6,189.7 268.1,180C263.7,170.3 257.4,158.6 251.3,150C245.2,141.4 238.4,134 231.5,128.2C224.6,122.4 217.3,118.1 210,115.3C202.7,112.5 195,111.1 187.5,111.4C180,111.7 172,114.1 165,117.2C158,120.3 151.4,124.5 145.3,130C139.2,135.5 131.9,145 128.2,150C124.4,155 125.2,155 122.8,160C120.4,165 116.6,173.3 114,180C111.4,186.7 109,194.7 107.3,200C105.6,205.3 104.6,207.8 103.6,212C102.6,216.2 101.8,219.7 101.2,225C100.6,230.3 100.3,237.8 100.1,244C99.9,250.2 99.9,256 100.2,262C100.5,268 100.4,272 101.7,280C103,288 105.1,300 107.8,310C110.5,320 113.7,330 117.9,340C122.1,350 128.5,361.7 132.8,370C137.1,378.3 140.9,385.2 143.5,390C146.1,394.8 146.2,395.1 148.5,399C150.8,402.9 153.4,407.8 157,413.5C160.6,419.2 165.2,425.9 170,433C174.8,440.1 180.7,448.2 186,456C191.3,463.8 197.3,472.9 202.1,480C206.9,487.1 212.7,495.7 214.8,498.8" fill="none" stroke="#2f4fa5" vector-effect="non-scaling-stroke" stroke-width="0.94"/>
<path d="M195.5,243.9 H202 M198.7,240.7 V247.1" stroke="#5060b0" vector-effect="non-scaling-stroke" stroke-width="0.68"/>
<path d="M93.7,108.4 L284.6,171.5" stroke="#f39a2e" vector-effect="non-scaling-stroke" stroke-width="1.10"/>
<path d="M78.5,224.6 L284,223" stroke="#f39a2e" vector-effect="non-scaling-stroke" stroke-width="1.10"/>
<path d="M255,195.4 L361,195.4" stroke="#5cb84f" vector-effect="non-scaling-stroke" stroke-width="1.27"/>
<path d="M264,192.6 L290,192.6" stroke="#4d4149" vector-effect="non-scaling-stroke" stroke-width="1.06"/>
</g></g>
<rect x="41.8" y="2" width="319.4" height="496.8" fill="none" stroke="#747474" stroke-width="1.05"/>
<path d="M41.8,498.8 v-2 M41.8,2 v2 M50.7,498.8 v-2 M50.7,2 v2 M59.5,498.8 v-2 M59.5,2 v2 M68.4,498.8 v-2 M68.4,2 v2 M77.3,498.8 v-4 M77.3,2 v4 M86.2,498.8 v-2 M86.2,2 v2 M95,498.8 v-2 M95,2 v2 M103.9,498.8 v-2 M103.9,2 v2 M112.8,498.8 v-2 M112.8,2 v2 M121.6,498.8 v-4 M121.6,2 v4 M130.5,498.8 v-2 M130.5,2 v2 M139.4,498.8 v-2 M139.4,2 v2 M148.2,498.8 v-2 M148.2,2 v2 M157.1,498.8 v-2 M157.1,2 v2 M166,498.8 v-4 M166,2 v4 M174.9,498.8 v-2 M174.9,2 v2 M183.7,498.8 v-2 M183.7,2 v2 M192.6,498.8 v-2 M192.6,2 v2 M201.5,498.8 v-2 M201.5,2 v2 M210.3,498.8 v-4 M210.3,2 v4 M219.2,498.8 v-2 M219.2,2 v2 M228.1,498.8 v-2 M228.1,2 v2 M236.9,498.8 v-2 M236.9,2 v2 M245.8,498.8 v-2 M245.8,2 v2 M254.7,498.8 v-4 M254.7,2 v4 M263.5,498.8 v-2 M263.5,2 v2 M272.4,498.8 v-2 M272.4,2 v2 M281.3,498.8 v-2 M281.3,2 v2 M290.2,498.8 v-2 M290.2,2 v2 M299,498.8 v-4 M299,2 v4 M307.9,498.8 v-2 M307.9,2 v2 M316.8,498.8 v-2 M316.8,2 v2 M325.6,498.8 v-2 M325.6,2 v2 M334.5,498.8 v-2 M334.5,2 v2 M343.4,498.8 v-4 M343.4,2 v4 M352.2,498.8 v-2 M352.2,2 v2 M361.1,498.8 v-2 M361.1,2 v2 M41.8,498.6 h2.2 M361.2,498.6 h-2.2 M41.8,480.8 h2.2 M361.2,480.8 h-2.2 M41.8,463.1 h2.2 M361.2,463.1 h-2.2 M41.8,445.3 h2.2 M361.2,445.3 h-2.2 M41.8,427.6 h4 M361.2,427.6 h-4 M41.8,409.9 h2.2 M361.2,409.9 h-2.2 M41.8,392.1 h2.2 M361.2,392.1 h-2.2 M41.8,374.4 h2.2 M361.2,374.4 h-2.2 M41.8,356.6 h2.2 M361.2,356.6 h-2.2 M41.8,338.9 h4 M41.8,321.2 h2.2 M41.8,303.4 h2.2 M41.8,285.7 h2.2 M41.8,267.9 h2.2 M41.8,250.2 h4 M41.8,232.5 h2.2 M41.8,214.7 h2.2 M41.8,197 h2.2 M41.8,179.2 h2.2 M41.8,161.5 h4 M41.8,143.8 h2.2 M361.2,143.8 h-2.2 M41.8,126 h2.2 M361.2,126 h-2.2 M41.8,108.3 h2.2 M361.2,108.3 h-2.2 M41.8,90.5 h2.2 M361.2,90.5 h-2.2 M41.8,72.8 h4 M361.2,72.8 h-4 M41.8,55.1 h2.2 M361.2,55.1 h-2.2 M41.8,37.3 h2.2 M361.2,37.3 h-2.2 M41.8,19.6 h2.2 M361.2,19.6 h-2.2 M41.8,1.8 h2.2 M361.2,1.8 h-2.2" stroke="#707070" stroke-width="0.9" fill="none"/>
<rect x="384.7" y="1.4" width="180.8" height="297.1" fill="none" stroke="#6a6a6a" stroke-width="1"/>
<path d="M384.7,1.4 v1.8 M384.7,298.5 v-1.8 M395.3,1.4 v3 M395.3,298.5 v-3 M405.9,1.4 v1.8 M405.9,298.5 v-1.8 M416.5,1.4 v3 M416.5,298.5 v-3 M427.1,1.4 v1.8 M427.1,298.5 v-1.8 M437.8,1.4 v3 M437.8,298.5 v-3 M448.4,1.4 v1.8 M448.4,298.5 v-1.8 M459,1.4 v3 M459,298.5 v-3 M469.6,1.4 v1.8 M480.2,1.4 v3 M490.8,1.4 v1.8 M501.4,1.4 v3 M512,1.4 v1.8 M522.6,1.4 v3 M533.2,1.4 v1.8 M543.8,1.4 v3 M554.5,1.4 v1.8 M565.1,1.4 v3 M384.7,298.5 h3 M384.7,287.9 h1.8 M384.7,277.3 h3 M384.7,266.7 h1.8 M384.7,256.1 h3 M384.7,245.4 h1.8 M384.7,234.8 h3 M384.7,224.2 h1.8 M384.7,213.6 h3 M384.7,203 h1.8 M384.7,192.4 h3 M384.7,181.8 h1.8 M565.5,181.8 h-1.8 M384.7,171.2 h3 M565.5,171.2 h-3 M384.7,160.6 h1.8 M565.5,160.6 h-1.8 M384.7,150 h3 M565.5,150 h-3 M384.7,139.4 h1.8 M565.5,139.4 h-1.8 M384.7,128.7 h3 M565.5,128.7 h-3 M384.7,118.1 h1.8 M565.5,118.1 h-1.8 M384.7,107.5 h3 M565.5,107.5 h-3 M384.7,96.9 h1.8 M565.5,96.9 h-1.8 M384.7,86.3 h3 M565.5,86.3 h-3 M384.7,75.7 h1.8 M565.5,75.7 h-1.8 M384.7,65.1 h3 M565.5,65.1 h-3 M384.7,54.5 h1.8 M565.5,54.5 h-1.8 M384.7,43.9 h3 M565.5,43.9 h-3 M384.7,33.2 h1.8 M565.5,33.2 h-1.8 M384.7,22.6 h3 M565.5,22.6 h-3 M384.7,12 h1.8 M565.5,12 h-1.8 M384.7,1.4 h3 M565.5,1.4 h-3" stroke="#707070" stroke-width="0.8" fill="none"/>
<text x="77.3" y="508" text-anchor="middle" style="font-family:'Liberation Sans',sans-serif;font-weight:bold;font-size:6.6px">1.00</text>
<text x="121.6" y="508" text-anchor="middle" style="font-family:'Liberation Sans',sans-serif;font-weight:bold;font-size:6.6px">1.25</text>
<text x="166" y="508" text-anchor="middle" style="font-family:'Liberation Sans',sans-serif;font-weight:bold;font-size:6.6px">1.50</text>
<text x="210.3" y="508" text-anchor="middle" style="font-family:'Liberation Sans',sans-serif;font-weight:bold;font-size:6.6px">1.75</text>
<text x="254.7" y="508" text-anchor="middle" style="font-family:'Liberation Sans',sans-serif;font-weight:bold;font-size:6.6px">2.00</text>
<text x="299" y="508" text-anchor="middle" style="font-family:'Liberation Sans',sans-serif;font-weight:bold;font-size:6.6px">2.25</text>
<text x="343.4" y="508" text-anchor="middle" style="font-family:'Liberation Sans',sans-serif;font-weight:bold;font-size:6.6px">2.50</text>
<text x="37.6" y="75.1" text-anchor="end" style="font-family:'Liberation Sans',sans-serif;font-weight:bold;font-size:6.6px">1.0</text>
<text x="37.6" y="163.8" text-anchor="end" style="font-family:'Liberation Sans',sans-serif;font-weight:bold;font-size:6.6px">0.5</text>
<text x="37.6" y="252.5" text-anchor="end" style="font-family:'Liberation Sans',sans-serif;font-weight:bold;font-size:6.6px">0.0</text>
<text x="37.6" y="341.2" text-anchor="end" style="font-family:'Liberation Sans',sans-serif;font-weight:bold;font-size:6.6px">-0.5</text>
<text x="37.6" y="429.9" text-anchor="end" style="font-family:'Liberation Sans',sans-serif;font-weight:bold;font-size:6.6px">-1.0</text>
<text x="395.3" y="306" text-anchor="middle" style="font-family:'Liberation Sans',sans-serif;font-weight:bold;font-size:4.3px;fill:#222">1.80</text>
<text x="416.5" y="306" text-anchor="middle" style="font-family:'Liberation Sans',sans-serif;font-weight:bold;font-size:4.3px;fill:#222">1.90</text>
<text x="437.8" y="306" text-anchor="middle" style="font-family:'Liberation Sans',sans-serif;font-weight:bold;font-size:4.3px;fill:#222">2.00</text>
<text x="459" y="306" text-anchor="middle" style="font-family:'Liberation Sans',sans-serif;font-weight:bold;font-size:4.3px;fill:#222">2.10</text>
<text x="480.2" y="306" text-anchor="middle" style="font-family:'Liberation Sans',sans-serif;font-weight:bold;font-size:4.3px;fill:#222">2.20</text>
<text x="501.4" y="306" text-anchor="middle" style="font-family:'Liberation Sans',sans-serif;font-weight:bold;font-size:4.3px;fill:#222">2.30</text>
<text x="522.6" y="306" text-anchor="middle" style="font-family:'Liberation Sans',sans-serif;font-weight:bold;font-size:4.3px;fill:#222">2.40</text>
<text x="543.8" y="306" text-anchor="middle" style="font-family:'Liberation Sans',sans-serif;font-weight:bold;font-size:4.3px;fill:#222">2.50</text>
<text x="565.1" y="306" text-anchor="middle" style="font-family:'Liberation Sans',sans-serif;font-weight:bold;font-size:4.3px;fill:#222">2.60</text>
<text x="381" y="45.5" text-anchor="end" style="font-family:'Liberation Sans',sans-serif;font-weight:bold;font-size:4.3px;fill:#222">1.2</text>
<text x="381" y="87.9" text-anchor="end" style="font-family:'Liberation Sans',sans-serif;font-weight:bold;font-size:4.3px;fill:#222">1.0</text>
<text x="381" y="130.3" text-anchor="end" style="font-family:'Liberation Sans',sans-serif;font-weight:bold;font-size:4.3px;fill:#222">0.8</text>
<text x="381" y="172.8" text-anchor="end" style="font-family:'Liberation Sans',sans-serif;font-weight:bold;font-size:4.3px;fill:#222">0.6</text>
<text x="381" y="215.2" text-anchor="end" style="font-family:'Liberation Sans',sans-serif;font-weight:bold;font-size:4.3px;fill:#222">0.4</text>
<text x="381" y="257.7" text-anchor="end" style="font-family:'Liberation Sans',sans-serif;font-weight:bold;font-size:4.3px;fill:#222">0.2</text>
<text x="381" y="300.1" text-anchor="end" style="font-family:'Liberation Sans',sans-serif;font-weight:bold;font-size:4.3px;fill:#222">0.0</text>
<text transform="translate(309.6,34.2) scale(1.04,1)" style="font-size:29px;fill:#111;stroke:#fff;stroke-width:0.45px">(a)</text>
<text transform="translate(400.5,34.2) scale(1.04,1)" style="font-size:29px;fill:#111;stroke:#fff;stroke-width:0.45px">(b)</text>
<text transform="translate(178.8,531.9) scale(0.94,1)" style="font-size:19.5px;fill:#111">R [m]</text>
<text transform="translate(15.8,262.3) rotate(-90) scale(0.94,1)" style="font-size:19px;fill:#111">Z [m]</text>
<text x="134.2" y="215.5" style="font-weight:bold;font-size:17.6px;fill:#f28a1e">DCN H-1</text>
<text transform="translate(162.8,126) rotate(17.8)" style="font-weight:bold;font-size:17.6px;fill:#f28a1e">DCN H-5</text>
<text x="254.4" y="189.5" style="font-weight:bold;font-size:18px;fill:#000">Li-Beam</text>
<text x="295.8" y="215.7" style="font-weight:bold;font-size:18px;fill:#22b04a">MEM</text>
<defs>
<clipPath id="pc"><rect x="383" y="315" width="184" height="157"/></clipPath>
<filter id="bl1" x="-30%" y="-30%" width="160%" height="160%"><feGaussianBlur stdDeviation="1.2"/></filter>
<filter id="bl2" x="-30%" y="-30%" width="160%" height="160%"><feGaussianBlur stdDeviation="2.5"/></filter>
<filter id="bl4" x="-50%" y="-50%" width="200%" height="200%"><feGaussianBlur stdDeviation="4"/></filter>
<filter id="bl05" x="-30%" y="-30%" width="160%" height="160%"><feGaussianBlur stdDeviation="0.6"/></filter>
<linearGradient id="bg" x1="0" y1="0" x2="0" y2="1">
 <stop offset="0" stop-color="#e9e1d1"/><stop offset="0.15" stop-color="#eee6d6"/><stop offset="0.3" stop-color="#e2d7c2"/>
 <stop offset="0.6" stop-color="#c0a27c"/><stop offset="0.66" stop-color="#b3946c"/><stop offset="0.68" stop-color="#52786a"/><stop offset="1" stop-color="#4e7564"/>
</linearGradient>
<linearGradient id="mat" x1="0" y1="0" x2="1" y2="1">
 <stop offset="0" stop-color="#466c5c"/><stop offset="0.5" stop-color="#507766"/><stop offset="1" stop-color="#476c5b"/>
</linearGradient>
<linearGradient id="body" x1="0" y1="0" x2="1" y2="0">
 <stop offset="0" stop-color="#bfb8ab"/><stop offset="0.22" stop-color="#d0c9bc"/><stop offset="0.38" stop-color="#c7c0b3"/><stop offset="0.58" stop-color="#c0b9ac"/>
 <stop offset="0.85" stop-color="#b9b2a6"/><stop offset="1" stop-color="#a8a196"/>
</linearGradient>
<linearGradient id="bodyv" x1="0" y1="0" x2="0" y2="1">
 <stop offset="0" stop-color="#fff" stop-opacity="0.1"/><stop offset="0.3" stop-color="#fff" stop-opacity="0"/>
 <stop offset="0.55" stop-color="#000" stop-opacity="0.08"/><stop offset="0.8" stop-color="#1a1008" stop-opacity="0.22"/><stop offset="1" stop-color="#2a1a0a" stop-opacity="0.45"/>
</linearGradient>
<linearGradient id="flg" x1="0" y1="0" x2="0" y2="1">
 <stop offset="0" stop-color="#b2a698"/><stop offset="0.4" stop-color="#988a7c"/><stop offset="0.75" stop-color="#8c7a6a"/><stop offset="1" stop-color="#a8805e"/>
</linearGradient>
<radialGradient id="smudge" cx="0.5" cy="0.5" r="0.5">
 <stop offset="0" stop-color="#3a332d" stop-opacity="0.9"/><stop offset="0.55" stop-color="#463e37" stop-opacity="0.75"/><stop offset="1" stop-color="#4a423a" stop-opacity="0"/>
</radialGradient>
</defs>
<g clip-path="url(#pc)">
<rect x="383" y="315" width="184" height="157" fill="url(#bg)"/>
<rect x="383" y="418" width="184" height="54" fill="url(#mat)"/>
<rect x="548" y="412" width="20" height="15" fill="#d6d6c8" filter="url(#bl2)"/>
<rect x="381" y="352" width="14" height="66" fill="#b89a74" filter="url(#bl2)"/>
<rect x="385" y="322.3" width="34" height="3.6" fill="#efa986" filter="url(#bl05)"/>
<rect x="383" y="335" width="70" height="6" fill="#f4efe4" filter="url(#bl1)"/>
<rect x="520" y="317" width="47" height="12" fill="#d7d0c2" filter="url(#bl2)"/>
<rect x="549" y="334" width="20" height="80" fill="#2f62b0" filter="url(#bl1)"/>
<path d="M436.5,326.8C441,326.2 447.1,325.8 452,325.8C456.9,325.8 461.7,325.9 466,326.8C470.3,327.7 474.7,328.5 478,331C481.3,333.5 484.7,325.5 486,342C487.3,358.5 489,413.8 486,430C483,446.2 473.7,437.7 468,439C462.3,440.3 457.2,438.4 452,438C446.8,437.6 441.6,437.8 436.5,436.5C431.4,435.2 425.9,432.5 421.5,430.5C417.1,428.5 413.4,426.9 410,424.5C406.6,422.1 403.7,419.1 401,416C398.3,412.9 395.9,409.3 394,406C392.1,402.7 390.5,399.5 389.5,396C388.5,392.5 388.1,389 388,385C387.9,381 388.2,376 388.8,372C389.4,368 390.2,364.6 391.5,361C392.8,357.4 394.4,353.8 396.5,350.5C398.6,347.2 401,344.3 404,341.5C407,338.7 411,335.8 414.5,333.8C418,331.8 421.3,330.5 425,329.3C428.7,328.1 432,327.4 436.5,326.8Z" fill="#3e332b"/>
<path d="M437,328.5C441.3,327.9 447.2,327.6 452,327.6C456.8,327.6 461.7,327.7 466,328.5C470.3,329.3 474.7,330.2 478,332.5C481.3,334.8 484.7,325.8 486,342C487.3,358.2 489,414.1 486,430C483,445.9 473.7,436.4 468,437.5C462.3,438.6 457.2,436.9 452,436.5C446.8,436.1 441.9,436.1 437,434.8C432.1,433.6 426.7,431 422.5,429C418.3,427 415.2,425.4 412,423C408.8,420.6 405.9,417.8 403.5,414.8C401.1,411.8 399.1,408.4 397.5,405.2C395.9,402 394.8,398.9 394,395.5C393.2,392.1 393,388.8 393,385C393,381.2 393.3,376.3 393.8,372.5C394.3,368.7 395.1,365.4 396.2,362C397.3,358.6 398.7,355.1 400.5,352C402.3,348.9 404.3,345.9 407,343.2C409.7,340.4 413.3,337.5 416.5,335.5C419.7,333.5 422.6,332.2 426,331C429.4,329.8 432.7,329.1 437,328.5Z" fill="url(#flg)"/>
<path d="M445,329.2C441.9,329.8 431.1,331.2 426.5,332.5C421.9,333.8 420.5,334.8 417.5,336.8C414.5,338.8 411.1,341.8 408.5,344.5C405.9,347.2 403.9,350 402.2,353C400.5,356 399.2,359.3 398.2,362.6C397.1,365.9 396.4,369.3 395.9,373C395.4,376.7 395.1,381.3 395.2,385C395.2,388.7 395.5,391.8 396.2,395C396.9,398.2 398,401.4 399.5,404.5C401,407.6 403,410.7 405.3,413.5C407.6,416.3 410.5,419 413.5,421.3C416.5,423.6 419.6,425.4 423.5,427.3C427.4,429.2 434.8,431.7 437,432.6" fill="none" stroke="#d8cfc4" stroke-width="0.9" opacity="0.8"/>
<path d="M426.5,342.5C428.5,340.8 430.4,340 433,339C435.6,338 438.3,337.3 442,336.5C445.7,335.7 450.3,334.8 455,334C459.7,333.2 465.5,332.5 470,331.5C474.5,330.5 478.3,328.9 482,327.8C485.7,326.7 488.2,325.9 492,325C495.8,324.1 500.8,322.9 505,322.4C509.2,321.9 512.8,321.4 517,321.8C521.2,322.2 525.7,322.5 530,324.5C534.3,326.5 539.2,329.8 543,334C546.8,338.2 550,343.8 552.7,349.5C555.4,355.2 557.9,362.5 559.2,368.4C560.6,374.2 560.6,379.7 560.8,384.6C561,389.5 561,392.2 560.5,398C560,403.8 559.4,412.7 557.6,419.2C555.8,425.7 553,431.6 549.5,437C546,442.4 541.4,447.4 536.5,451.5C531.6,455.6 526.6,459.7 520.4,461.3C514.2,462.9 505.2,462.7 499.3,461.3C493.4,459.9 490,455.9 484.8,453.2C479.6,450.5 473.5,447.8 468,445C462.5,442.2 457.1,439.2 452,436.5C446.9,433.8 441.8,431.4 437.5,429C433.2,426.6 429.2,424.4 426,422C422.8,419.6 420.2,417.3 418,414.5C415.8,411.7 414.2,408.1 413,405C411.8,401.9 411,398.9 410.6,395.7C410.2,392.5 410.3,389.3 410.4,386C410.5,382.7 410.6,379.2 411,376C411.4,372.8 412.1,369.6 413,366.5C413.9,363.4 415.2,360.3 416.5,357.5C417.8,354.7 419.3,352 421,349.5C422.7,347 424.5,344.2 426.5,342.5Z" fill="url(#body)"/>
<path d="M426.5,342.5C428.5,340.8 430.4,340 433,339C435.6,338 438.3,337.3 442,336.5C445.7,335.7 450.3,334.8 455,334C459.7,333.2 465.5,332.5 470,331.5C474.5,330.5 478.3,328.9 482,327.8C485.7,326.7 488.2,325.9 492,325C495.8,324.1 500.8,322.9 505,322.4C509.2,321.9 512.8,321.4 517,321.8C521.2,322.2 525.7,322.5 530,324.5C534.3,326.5 539.2,329.8 543,334C546.8,338.2 550,343.8 552.7,349.5C555.4,355.2 557.9,362.5 559.2,368.4C560.6,374.2 560.6,379.7 560.8,384.6C561,389.5 561,392.2 560.5,398C560,403.8 559.4,412.7 557.6,419.2C555.8,425.7 553,431.6 549.5,437C546,442.4 541.4,447.4 536.5,451.5C531.6,455.6 526.6,459.7 520.4,461.3C514.2,462.9 505.2,462.7 499.3,461.3C493.4,459.9 490,455.9 484.8,453.2C479.6,450.5 473.5,447.8 468,445C462.5,442.2 457.1,439.2 452,436.5C446.9,433.8 441.8,431.4 437.5,429C433.2,426.6 429.2,424.4 426,422C422.8,419.6 420.2,417.3 418,414.5C415.8,411.7 414.2,408.1 413,405C411.8,401.9 411,398.9 410.6,395.7C410.2,392.5 410.3,389.3 410.4,386C410.5,382.7 410.6,379.2 411,376C411.4,372.8 412.1,369.6 413,366.5C413.9,363.4 415.2,360.3 416.5,357.5C417.8,354.7 419.3,352 421,349.5C422.7,347 424.5,344.2 426.5,342.5Z" fill="url(#bodyv)"/>
<path d="M540,334 Q562,360 560,400 Q556,435 530,456" fill="none" stroke="#7d7974" stroke-width="3" opacity="0.3" filter="url(#bl1)"/>
<ellipse cx="513" cy="421" rx="19" ry="43" fill="url(#smudge)"/>
<ellipse cx="512" cy="440" rx="14" ry="18" fill="#4a3f36" opacity="0.55" filter="url(#bl2)"/>
<ellipse cx="512" cy="350" rx="6" ry="18" fill="#6b655e" opacity="0.35" filter="url(#bl2)"/>
<ellipse cx="505" cy="452" rx="5" ry="5" fill="#b59a88" opacity="0.6" filter="url(#bl1)"/>
<circle cx="438.1" cy="333.9" r="4.2" fill="#d9d0c4" opacity="0.7"/><circle cx="437.6" cy="333.4" r="3.6" fill="#3b3028"/><circle cx="437.6" cy="333.4" r="1.7" fill="#8e7f70"/>
<circle cx="420.5" cy="341.8" r="4.2" fill="#7a6a5c"/><circle cx="420.5" cy="341.8" r="3.4" fill="#d5cbbf"/><circle cx="420.8" cy="342.1" r="1.6" fill="#b3a89b"/>
<circle cx="408.1" cy="358.7" r="4.2" fill="#d9d0c4" opacity="0.7"/><circle cx="407.6" cy="358.2" r="3.6" fill="#3b3028"/><circle cx="407.6" cy="358.2" r="1.7" fill="#8e7f70"/>
<circle cx="404.9" cy="400.5" r="4.2" fill="#d9d0c4" opacity="0.7"/><circle cx="404.4" cy="400" r="3.6" fill="#3b3028"/><circle cx="404.4" cy="400" r="1.7" fill="#8e7f70"/>
<circle cx="416.2" cy="417.1" r="4.2" fill="#7a6a5c"/><circle cx="416.2" cy="417.1" r="3.4" fill="#d5cbbf"/><circle cx="416.5" cy="417.40000000000003" r="1.6" fill="#b3a89b"/>
<circle cx="432.8" cy="428.3" r="4.2" fill="#d9d0c4" opacity="0.7"/><circle cx="432.3" cy="427.8" r="3.6" fill="#3b3028"/><circle cx="432.3" cy="427.8" r="1.7" fill="#8e7f70"/>
<ellipse cx="494.5" cy="367.6" rx="4.7" ry="4.7" fill="#eeebe6" opacity="0.75"/>
<ellipse cx="493.6" cy="366.7" rx="4.2" ry="4.2" fill="#221d1a"/>
<ellipse cx="494.1" cy="367.2" rx="1.5" ry="1.5" fill="#5a4f45"/>
<ellipse cx="521.3" cy="370.4" rx="4.3" ry="4.3" fill="#eeebe6" opacity="0.75"/>
<ellipse cx="520.4" cy="369.5" rx="3.8" ry="3.8" fill="#221d1a"/>
<ellipse cx="520.9" cy="370" rx="1.3" ry="1.3" fill="#5a4f45"/>
<ellipse cx="538.3" cy="371.9" rx="3.5" ry="4.7" fill="#eeebe6" opacity="0.75"/>
<ellipse cx="537.4" cy="371" rx="3" ry="4.2" fill="#221d1a"/>
<ellipse cx="537.9" cy="371.5" rx="1" ry="1.5" fill="#5a4f45"/>
<ellipse cx="550.7" cy="373.4" rx="3.1" ry="4.3" fill="#eeebe6" opacity="0.75"/>
<ellipse cx="549.8" cy="372.5" rx="2.6" ry="3.8" fill="#221d1a"/>
<ellipse cx="550.3" cy="373" rx="0.9" ry="1.3" fill="#5a4f45"/>
<ellipse cx="493.4" cy="384.9" rx="4.7" ry="4.7" fill="#eeebe6" opacity="0.75"/>
<ellipse cx="492.5" cy="384" rx="4.2" ry="4.2" fill="#221d1a"/>
<ellipse cx="493" cy="384.5" rx="1.5" ry="1.5" fill="#5a4f45"/>
<ellipse cx="519.9" cy="386.9" rx="4.3" ry="4.3" fill="#eeebe6" opacity="0.75"/>
<ellipse cx="519" cy="386" rx="3.8" ry="3.8" fill="#221d1a"/>
<ellipse cx="519.5" cy="386.5" rx="1.3" ry="1.3" fill="#5a4f45"/>
<ellipse cx="537.1" cy="387.6" rx="3.5" ry="4.7" fill="#eeebe6" opacity="0.75"/>
<ellipse cx="536.2" cy="386.7" rx="3" ry="4.2" fill="#221d1a"/>
<ellipse cx="536.7" cy="387.2" rx="1" ry="1.5" fill="#5a4f45"/>
<ellipse cx="549.6" cy="388.4" rx="3.1" ry="4.3" fill="#eeebe6" opacity="0.75"/>
<ellipse cx="548.7" cy="387.5" rx="2.6" ry="3.8" fill="#221d1a"/>
<ellipse cx="549.2" cy="388" rx="0.9" ry="1.3" fill="#5a4f45"/>
<ellipse cx="492.1" cy="402.2" rx="4.7" ry="4.7" fill="#eeebe6" opacity="0.75"/>
<ellipse cx="491.2" cy="401.3" rx="4.2" ry="4.2" fill="#221d1a"/>
<ellipse cx="491.7" cy="401.8" rx="1.5" ry="1.5" fill="#5a4f45"/>
<ellipse cx="518.8" cy="403.9" rx="4.3" ry="4.3" fill="#eeebe6" opacity="0.75"/>
<ellipse cx="517.9" cy="403" rx="3.8" ry="3.8" fill="#221d1a"/>
<ellipse cx="518.4" cy="403.5" rx="1.3" ry="1.3" fill="#5a4f45"/>
<ellipse cx="536.2" cy="403" rx="3.5" ry="4.7" fill="#eeebe6" opacity="0.75"/>
<ellipse cx="535.3" cy="402.1" rx="3" ry="4.2" fill="#221d1a"/>
<ellipse cx="535.8" cy="402.6" rx="1" ry="1.5" fill="#5a4f45"/>
<ellipse cx="548.5" cy="402.2" rx="3.1" ry="4.3" fill="#eeebe6" opacity="0.75"/>
<ellipse cx="547.6" cy="401.3" rx="2.6" ry="3.8" fill="#221d1a"/>
<ellipse cx="548.1" cy="401.8" rx="0.9" ry="1.3" fill="#5a4f45"/>
<ellipse cx="491.3" cy="418.4" rx="4.7" ry="4.7" fill="#eeebe6" opacity="0.75"/>
<ellipse cx="490.4" cy="417.5" rx="4.2" ry="4.2" fill="#221d1a"/>
<ellipse cx="490.9" cy="418" rx="1.5" ry="1.5" fill="#5a4f45"/>
<ellipse cx="517.2" cy="420.1" rx="4.3" ry="4.3" fill="#eeebe6" opacity="0.75"/>
<ellipse cx="516.3" cy="419.2" rx="3.8" ry="3.8" fill="#221d1a"/>
<ellipse cx="516.8" cy="419.7" rx="1.3" ry="1.3" fill="#5a4f45"/>
<ellipse cx="535" cy="417.6" rx="3.5" ry="4.7" fill="#eeebe6" opacity="0.75"/>
<ellipse cx="534.1" cy="416.7" rx="3" ry="4.2" fill="#221d1a"/>
<ellipse cx="534.6" cy="417.2" rx="1" ry="1.5" fill="#5a4f45"/>
<ellipse cx="547.2" cy="416" rx="3.1" ry="4.3" fill="#eeebe6" opacity="0.75"/>
<ellipse cx="546.3" cy="415.1" rx="2.6" ry="3.8" fill="#221d1a"/>
<ellipse cx="546.8" cy="415.6" rx="0.9" ry="1.3" fill="#5a4f45"/>
</g>
<text transform="translate(401,455.6) scale(1.05,1)" style="font-family:'Liberation Sans',sans-serif;font-size:30.5px;fill:#fff;stroke:#55756a;stroke-width:0.5px">(c)</text>
</svg></body></html>
